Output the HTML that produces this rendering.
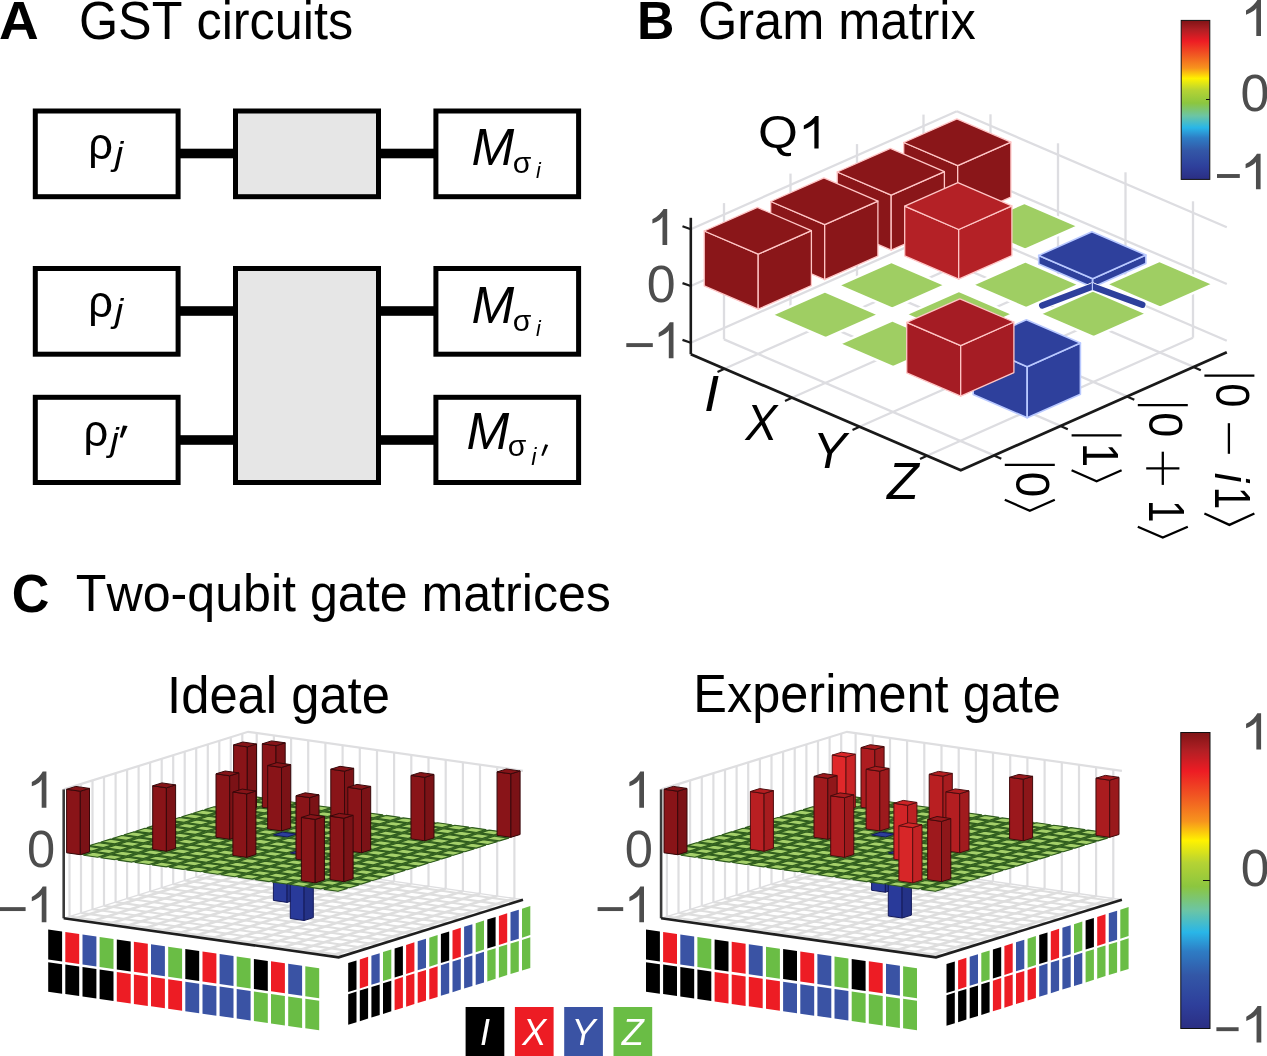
<!DOCTYPE html>
<html><head><meta charset="utf-8"><title>Figure</title>
<style>html,body{margin:0;padding:0;background:#fff;overflow:hidden}svg{display:block;font-family:"Liberation Sans",sans-serif;will-change:transform;font-kerning:none}</style>
</head><body>
<svg width="1267" height="1056" viewBox="0 0 1267 1056">
<rect width="1267" height="1056" fill="#fff"/>
<text transform="translate(-1.07,38.50) scale(1.1000,1.0727)" font-size="50.0" fill="#000" font-weight="bold">A</text>
<text transform="translate(78.92,38.50) scale(1.0076,1.0669)" font-size="50.0" fill="#000" >GST circuits</text>
<text transform="translate(637.03,38.50) scale(1.0363,1.0727)" font-size="50.0" fill="#000" font-weight="bold">B</text>
<text transform="translate(697.96,38.50) scale(1.0101,1.0669)" font-size="50.0" fill="#000" >Gram matrix</text>
<text transform="translate(11.76,611.80) scale(1.0431,1.0727)" font-size="50.0" fill="#000" font-weight="bold">C</text>
<text transform="translate(75.87,611.30) scale(1.0030,1.0494)" font-size="50.0" fill="#000" >Two-qubit gate matrices</text>
<text transform="translate(167.12,712.80) scale(1.0146,1.0494)" font-size="50.0" fill="#000" >Ideal gate</text>
<text transform="translate(693.26,712.10) scale(1.0102,1.0552)" font-size="50.0" fill="#000" >Experiment gate</text>
<text transform="translate(758.07,148.40) scale(1.0255,0.9360)" font-size="50.0" fill="#000" >Q</text>
<path d="M818.60,148.40 L814.36,148.40 L814.36,123.16 Q813.33,124.52 811.09,125.91 Q807.36,128.12 803.80,129.25 L803.80,125.42 Q807.80,123.53 810.78,120.78 Q813.77,118.03 815.27,116.00 L818.60,116.00 Z" fill="#000"/>
<rect x="178" y="148.7" width="58" height="9.6" fill="#000"/>
<rect x="378" y="148.7" width="58" height="9.6" fill="#000"/>
<rect x="178" y="306.2" width="58" height="9.6" fill="#000"/>
<rect x="378" y="306.2" width="58" height="9.6" fill="#000"/>
<rect x="178" y="435.2" width="58" height="9.6" fill="#000"/>
<rect x="378" y="435.2" width="58" height="9.6" fill="#000"/>
<rect x="35.3" y="111.0" width="142.8" height="85.7" fill="#fff" stroke="#000" stroke-width="5"/>
<rect x="235.5" y="111.0" width="143.0" height="85.7" fill="#e6e6e6" stroke="#000" stroke-width="5"/>
<rect x="435.9" y="111.0" width="142.7" height="85.7" fill="#fff" stroke="#000" stroke-width="5"/>
<rect x="35.3" y="268.5" width="142.8" height="85.7" fill="#fff" stroke="#000" stroke-width="5"/>
<rect x="235.5" y="268.5" width="143.0" height="214.0" fill="#e6e6e6" stroke="#000" stroke-width="5"/>
<rect x="435.9" y="268.5" width="142.7" height="85.7" fill="#fff" stroke="#000" stroke-width="5"/>
<rect x="35.3" y="397.3" width="142.8" height="85.2" fill="#fff" stroke="#000" stroke-width="5"/>
<rect x="435.9" y="397.3" width="142.7" height="85.2" fill="#fff" stroke="#000" stroke-width="5"/>
<text transform="translate(88.20,159.30) scale(1.0000,1.0300)" font-size="43.5" fill="#000" >ρ</text>
<text transform="translate(114.86,164.70) scale(1.1200,1.0000)" font-size="34" fill="#000" font-style="italic">j</text>
<text transform="translate(88.20,317.00) scale(1.0000,1.0300)" font-size="43.5" fill="#000" >ρ</text>
<text transform="translate(114.86,322.40) scale(1.1200,1.0000)" font-size="34" fill="#000" font-style="italic">j</text>
<text transform="translate(83.60,446.00) scale(1.0000,1.0300)" font-size="43.5" fill="#000" >ρ</text>
<text transform="translate(110.26,451.40) scale(1.1200,1.0000)" font-size="34" fill="#000" font-style="italic">j</text>
<path d="M123.0,425.5 l4.6,0.6 l-5.2,11.6 l-2.6,-0.5 z" fill="#000"/>
<text transform="translate(471.42,165.20) scale(1.0600,1.0550)" font-size="48.4" fill="#000" font-style="italic">M</text>
<text transform="translate(512.73,172.60) scale(1.0400,1.0000)" font-size="29" fill="#000" >σ</text>
<text transform="translate(535.95,177.60) scale(1.0000,1.0000)" font-size="21.5" fill="#000" font-style="italic">i</text>
<text transform="translate(471.42,323.20) scale(1.0600,1.0550)" font-size="48.4" fill="#000" font-style="italic">M</text>
<text transform="translate(512.73,330.60) scale(1.0400,1.0000)" font-size="29" fill="#000" >σ</text>
<text transform="translate(535.95,335.60) scale(1.0000,1.0000)" font-size="21.5" fill="#000" font-style="italic">i</text>
<text transform="translate(466.42,448.80) scale(1.0600,1.0550)" font-size="48.4" fill="#000" font-style="italic">M</text>
<text transform="translate(507.73,456.20) scale(1.0400,1.0000)" font-size="29" fill="#000" >σ</text>
<text transform="translate(531.22,465.40) scale(1.0000,1.0000)" font-size="23.5" fill="#000" font-style="italic">i</text>
<path d="M545.2,444.3 l3.0,0.6 l-5.0,11.0 l-1.9,-0.5 z" fill="#000"/>
<line x1="724.5" y1="368.7" x2="990.5" y2="250.7" stroke="#dddde1" stroke-width="2.3" />
<line x1="724.0" y1="339.4" x2="994.0" y2="455.4" stroke="#dddde1" stroke-width="2.3" />
<line x1="792.0" y1="397.7" x2="1058.0" y2="279.7" stroke="#dddde1" stroke-width="2.3" />
<line x1="790.5" y1="309.9" x2="1060.5" y2="425.9" stroke="#dddde1" stroke-width="2.3" />
<line x1="859.5" y1="426.7" x2="1125.5" y2="308.7" stroke="#dddde1" stroke-width="2.3" />
<line x1="857.0" y1="280.4" x2="1127.0" y2="396.4" stroke="#dddde1" stroke-width="2.3" />
<line x1="927.0" y1="455.7" x2="1193.0" y2="337.7" stroke="#dddde1" stroke-width="2.3" />
<line x1="923.5" y1="250.9" x2="1193.5" y2="366.9" stroke="#dddde1" stroke-width="2.3" />
<line x1="724.0" y1="339.4" x2="724.0" y2="203.1" stroke="#dddde1" stroke-width="2.3" />
<line x1="990.5" y1="250.7" x2="990.5" y2="114.3" stroke="#dddde1" stroke-width="2.3" />
<line x1="790.5" y1="309.9" x2="790.5" y2="173.6" stroke="#dddde1" stroke-width="2.3" />
<line x1="1058.0" y1="279.7" x2="1058.0" y2="143.3" stroke="#dddde1" stroke-width="2.3" />
<line x1="857.0" y1="280.4" x2="857.0" y2="144.1" stroke="#dddde1" stroke-width="2.3" />
<line x1="1125.5" y1="308.7" x2="1125.5" y2="172.3" stroke="#dddde1" stroke-width="2.3" />
<line x1="923.5" y1="250.9" x2="923.5" y2="114.6" stroke="#dddde1" stroke-width="2.3" />
<line x1="1193.0" y1="337.7" x2="1193.0" y2="201.3" stroke="#dddde1" stroke-width="2.3" />
<line x1="690.8" y1="342.8" x2="956.8" y2="224.8" stroke="#dddde1" stroke-width="2.3" />
<line x1="956.8" y1="224.8" x2="1226.8" y2="340.8" stroke="#dddde1" stroke-width="2.3" />
<line x1="690.8" y1="286.0" x2="956.8" y2="168.0" stroke="#dddde1" stroke-width="2.3" />
<line x1="956.8" y1="168.0" x2="1226.8" y2="284.0" stroke="#dddde1" stroke-width="2.3" />
<line x1="690.8" y1="229.2" x2="956.8" y2="111.2" stroke="#dddde1" stroke-width="2.3" />
<line x1="956.8" y1="111.2" x2="1226.8" y2="227.2" stroke="#dddde1" stroke-width="2.3" />
<polygon points="903.7,142.5 957.7,165.7 957.7,220.7 903.7,197.4" fill="#8a1619" stroke="#ffc6c6" stroke-width="1.3" stroke-linejoin="round" />
<polygon points="957.7,165.7 1010.9,142.1 1010.9,197.1 957.7,220.7" fill="#8a1619" stroke="#ffc6c6" stroke-width="1.3" stroke-linejoin="round" />
<polygon points="903.7,142.5 956.9,118.9 1010.9,142.1 957.7,165.7" fill="#8a1619" stroke="#ffc6c6" stroke-width="1.3" stroke-linejoin="round" />
<polygon points="837.2,172.0 891.2,195.2 891.2,250.2 837.2,226.9" fill="#8a1619" stroke="#ffc6c6" stroke-width="1.3" stroke-linejoin="round" />
<polygon points="891.2,195.2 944.4,171.6 944.4,226.6 891.2,250.2" fill="#8a1619" stroke="#ffc6c6" stroke-width="1.3" stroke-linejoin="round" />
<polygon points="837.2,172.0 890.4,148.4 944.4,171.6 891.2,195.2" fill="#8a1619" stroke="#ffc6c6" stroke-width="1.3" stroke-linejoin="round" />
<polygon points="971.2,226.4 1024.4,202.8 1078.4,226.1 1025.2,249.7" fill="#9fce63" stroke="#ffffff" stroke-width="2.4" stroke-linejoin="round" />
<polygon points="770.7,201.5 824.7,224.7 824.7,279.7 770.7,256.4" fill="#8a1619" stroke="#ffc6c6" stroke-width="1.3" stroke-linejoin="round" />
<polygon points="824.7,224.7 877.9,201.1 877.9,256.1 824.7,279.7" fill="#8a1619" stroke="#ffc6c6" stroke-width="1.3" stroke-linejoin="round" />
<polygon points="770.7,201.5 823.9,177.9 877.9,201.1 824.7,224.7" fill="#8a1619" stroke="#ffc6c6" stroke-width="1.3" stroke-linejoin="round" />
<polygon points="904.7,206.2 958.7,229.5 958.7,279.2 904.7,255.9" fill="#b42126" stroke="#ffc6c6" stroke-width="1.3" stroke-linejoin="round" />
<polygon points="958.7,229.5 1011.9,205.9 1011.9,255.6 958.7,279.2" fill="#b42126" stroke="#ffc6c6" stroke-width="1.3" stroke-linejoin="round" />
<polygon points="904.7,206.2 957.9,182.6 1011.9,205.9 958.7,229.5" fill="#b42126" stroke="#ffc6c6" stroke-width="1.3" stroke-linejoin="round" />
<polygon points="1038.7,255.4 1092.7,278.7 1092.7,287.2 1038.7,264.0" fill="#2e409c" stroke="#b9c9ff" stroke-width="1.6" stroke-linejoin="round" />
<polygon points="1092.7,278.7 1145.9,255.1 1145.9,263.6 1092.7,287.2" fill="#2e409c" stroke="#b9c9ff" stroke-width="1.6" stroke-linejoin="round" />
<polygon points="1038.7,255.4 1091.9,231.8 1145.9,255.1 1092.7,278.7" fill="#2e409c" stroke="#b9c9ff" stroke-width="1.6" stroke-linejoin="round" />
<polygon points="704.2,231.0 758.2,254.2 758.2,309.2 704.2,285.9" fill="#8a1619" stroke="#ffc6c6" stroke-width="1.3" stroke-linejoin="round" />
<polygon points="758.2,254.2 811.4,230.6 811.4,285.6 758.2,309.2" fill="#8a1619" stroke="#ffc6c6" stroke-width="1.3" stroke-linejoin="round" />
<polygon points="704.2,231.0 757.4,207.4 811.4,230.6 758.2,254.2" fill="#8a1619" stroke="#ffc6c6" stroke-width="1.3" stroke-linejoin="round" />
<polygon points="838.2,285.4 891.4,261.8 945.4,285.1 892.2,308.7" fill="#9fce63" stroke="#ffffff" stroke-width="2.4" stroke-linejoin="round" />
<polygon points="972.2,284.9 1025.4,261.3 1079.4,284.6 1026.2,308.2" fill="#9fce63" stroke="#ffffff" stroke-width="2.4" stroke-linejoin="round" />
<polygon points="1106.2,284.4 1159.4,260.8 1213.4,284.1 1160.2,307.7" fill="#9fce63" stroke="#ffffff" stroke-width="2.4" stroke-linejoin="round" />
<polygon points="771.7,314.9 824.9,291.3 878.9,314.6 825.7,338.2" fill="#9fce63" stroke="#ffffff" stroke-width="2.4" stroke-linejoin="round" />
<polygon points="905.7,314.4 958.9,290.8 1012.9,314.1 959.7,337.7" fill="#9fce63" stroke="#ffffff" stroke-width="2.4" stroke-linejoin="round" />
<polygon points="1039.7,313.9 1092.9,290.3 1146.9,313.6 1093.7,337.2" fill="#9fce63" stroke="#ffffff" stroke-width="2.4" stroke-linejoin="round" />
<polygon points="839.2,343.9 892.4,320.3 946.4,343.6 893.2,367.2" fill="#9fce63" stroke="#ffffff" stroke-width="2.4" stroke-linejoin="round" />
<polygon points="973.2,343.4 1027.2,366.7 1027.2,417.8 973.2,394.6" fill="#2e409c" stroke="#b9c9ff" stroke-width="1.6" stroke-linejoin="round" />
<polygon points="1027.2,366.7 1080.4,343.1 1080.4,394.2 1027.2,417.8" fill="#2e409c" stroke="#b9c9ff" stroke-width="1.6" stroke-linejoin="round" />
<polygon points="973.2,343.4 1026.4,319.8 1080.4,343.1 1027.2,366.7" fill="#2e409c" stroke="#b9c9ff" stroke-width="1.6" stroke-linejoin="round" />
<polygon points="906.7,322.4 960.7,345.6 960.7,396.2 906.7,372.9" fill="#a51c24" stroke="#ffc6c6" stroke-width="1.3" stroke-linejoin="round" />
<polygon points="960.7,345.6 1013.9,322.0 1013.9,372.6 960.7,396.2" fill="#a51c24" stroke="#ffc6c6" stroke-width="1.3" stroke-linejoin="round" />
<polygon points="906.7,322.4 959.9,298.8 1013.9,322.0 960.7,345.6" fill="#a51c24" stroke="#ffc6c6" stroke-width="1.3" stroke-linejoin="round" />
<line x1="1092.5" y1="286.6" x2="1042.2" y2="305.4" stroke="#ffffff" stroke-width="8.4" stroke-linecap="round"/>
<line x1="1092.5" y1="286.6" x2="1142.3" y2="304.8" stroke="#ffffff" stroke-width="8.4" stroke-linecap="round"/>
<line x1="1092.5" y1="286.6" x2="1042.2" y2="305.4" stroke="#2e409c" stroke-width="6.4" stroke-linecap="round"/>
<line x1="1092.5" y1="286.6" x2="1142.3" y2="304.8" stroke="#2e409c" stroke-width="6.4" stroke-linecap="round"/>
<line x1="1092.4" y1="279.2" x2="1092.4" y2="290.3" stroke="#b9c9ff" stroke-width="1.2" />
<line x1="690.8" y1="354.2" x2="690.8" y2="217.8" stroke="#1a1a1a" stroke-width="2.6" />
<polyline points="690.8,354.2 960.8,470.2 1226.8,352.2" fill="none" stroke="#1a1a1a" stroke-width="2.8" stroke-linejoin="miter"/>
<line x1="690.8" y1="342.8" x2="682.5" y2="339.9" stroke="#1a1a1a" stroke-width="2.2" />
<line x1="690.8" y1="286.0" x2="682.5" y2="283.1" stroke="#1a1a1a" stroke-width="2.2" />
<line x1="690.8" y1="229.2" x2="682.5" y2="226.3" stroke="#1a1a1a" stroke-width="2.2" />
<line x1="724.5" y1="368.7" x2="717.5" y2="371.9" stroke="#1a1a1a" stroke-width="2.2" />
<line x1="994.0" y1="455.4" x2="1001.3" y2="458.8" stroke="#1a1a1a" stroke-width="2.2" />
<line x1="792.0" y1="397.7" x2="785.0" y2="400.9" stroke="#1a1a1a" stroke-width="2.2" />
<line x1="1060.5" y1="425.9" x2="1067.8" y2="429.3" stroke="#1a1a1a" stroke-width="2.2" />
<line x1="859.5" y1="426.7" x2="852.5" y2="429.9" stroke="#1a1a1a" stroke-width="2.2" />
<line x1="1127.0" y1="396.4" x2="1134.3" y2="399.8" stroke="#1a1a1a" stroke-width="2.2" />
<line x1="927.0" y1="455.7" x2="920.0" y2="458.9" stroke="#1a1a1a" stroke-width="2.2" />
<line x1="1193.5" y1="366.9" x2="1200.8" y2="370.3" stroke="#1a1a1a" stroke-width="2.2" />
<path d="M667.20,244.90 L662.49,244.90 L662.49,216.86 Q661.93,218.36 659.69,219.92 Q655.96,222.37 652.40,223.62 L652.40,219.36 Q656.40,217.26 659.38,214.21 Q662.37,211.15 663.49,208.90 L667.20,208.90 Z" fill="#4d4d4d"/>
<text transform="translate(646.78,302.08) scale(1.0377,1.0339)" font-size="50.0" fill="#4d4d4d">0</text>
<rect x="626.30" y="343.15" width="26.50" height="3.90" fill="#4d4d4d"/>
<path d="M673.50,358.30 L668.79,358.30 L668.79,330.26 Q668.23,331.76 665.99,333.32 Q662.26,335.77 658.70,337.02 L658.70,332.76 Q662.70,330.66 665.68,327.61 Q668.67,324.55 669.79,322.30 L673.50,322.30 Z" fill="#4d4d4d"/>
<text transform="translate(704.04,411.00) scale(1.0923,1.0116)" font-size="50.0" fill="#000" font-style="italic">I</text>
<text transform="translate(745.51,439.80) scale(0.9508,0.9942)" font-size="50.0" fill="#000" font-style="italic">X</text>
<text transform="translate(812.64,468.40) scale(1.0112,0.9942)" font-size="50.0" fill="#000" font-style="italic">Y</text>
<text transform="translate(887.01,498.70) scale(1.0392,1.0233)" font-size="50.0" fill="#000" font-style="italic">Z</text>
<g transform="translate(1015.8,464.8) rotate(90)" fill="#000" stroke="none">
<line x1="0.0" y1="11" x2="0.0" y2="-39" stroke="#000" stroke-width="2.3"/>
<text transform="translate(6.91,-0.48) scale(0.9163,0.9774)" font-size="50.0">0</text>
<polyline points="35.0,-39 45.9,-14 35.0,11" fill="none" stroke="#000" stroke-width="2.3" stroke-linejoin="miter"/>
</g>
<g transform="translate(1082.6,435.3) rotate(90)" fill="#000" stroke="none">
<line x1="0.0" y1="11" x2="0.0" y2="-39" stroke="#000" stroke-width="2.3"/>
<text transform="translate(7.61,0.00) scale(0.8628,1.0058)" font-size="50.0">1</text>
<polyline points="34.9,-39 45.9,-14 34.9,11" fill="none" stroke="#000" stroke-width="2.3" stroke-linejoin="miter"/>
</g>
<g transform="translate(1148.8,405.1) rotate(90)" fill="#000" stroke="none">
<line x1="0.0" y1="11" x2="0.0" y2="-39" stroke="#000" stroke-width="2.3"/>
<text transform="translate(7.23,-0.48) scale(0.9037,0.9774)" font-size="50.0">0</text>
<line x1="46.6" y1="-14" x2="79.8" y2="-14" stroke="#000" stroke-width="2.3"/>
<line x1="63.2" y1="-30.6" x2="63.2" y2="2.6" stroke="#000" stroke-width="2.3"/>
<text transform="translate(94.81,0.00) scale(0.8118,1.0058)" font-size="50.0">1</text>
<polyline points="121.6,-39 132.5,-14 121.6,11" fill="none" stroke="#000" stroke-width="2.3" stroke-linejoin="miter"/>
</g>
<g transform="translate(1215.4,375.6) rotate(90)" fill="#000" stroke="none">
<line x1="0.0" y1="11" x2="0.0" y2="-39" stroke="#000" stroke-width="2.3"/>
<text transform="translate(7.70,-0.48) scale(0.8702,0.9774)" font-size="50.0">0</text>
<line x1="47.6" y1="-13.5" x2="78.2" y2="-13.5" stroke="#000" stroke-width="2.3"/>
<text transform="translate(97.20,0.00) scale(0.8665,0.9550)" font-size="50.0" font-style="italic">i</text>
<text transform="translate(111.21,0.00) scale(0.8118,1.0058)" font-size="50.0">1</text>
<polyline points="137.9,-39 149.3,-14 137.9,11" fill="none" stroke="#000" stroke-width="2.3" stroke-linejoin="miter"/>
</g>
<defs><linearGradient id="jet" x1="0" y1="0" x2="0" y2="1">
<stop offset="0" stop-color="#7f1416"/><stop offset="0.06" stop-color="#b11f24"/><stop offset="0.13" stop-color="#ed1c24"/>
<stop offset="0.22" stop-color="#f15a22"/><stop offset="0.30" stop-color="#f7941d"/><stop offset="0.365" stop-color="#fff200"/>
<stop offset="0.44" stop-color="#b5d334"/><stop offset="0.52" stop-color="#8cc63f"/><stop offset="0.60" stop-color="#6cc5a4"/>
<stop offset="0.675" stop-color="#29b6e8"/><stop offset="0.74" stop-color="#2e7cc4"/><stop offset="0.82" stop-color="#3357a7"/>
<stop offset="0.92" stop-color="#2e3f9b"/><stop offset="1" stop-color="#2b2e83"/></linearGradient></defs>
<rect x="1181.2" y="20.4" width="28.6" height="159" fill="url(#jet)" stroke="#111" stroke-width="1"/>
<rect x="1180.8" y="732.5" width="29.2" height="296" fill="url(#jet)" stroke="#111" stroke-width="1"/>
<line x1="1203.0" y1="880.5" x2="1210.0" y2="880.5" stroke="#111" stroke-width="1" />
<line x1="1206.0" y1="99.5" x2="1210.0" y2="99.5" stroke="#111" stroke-width="1" />
<path d="M1261.00,36.00 L1256.29,36.00 L1256.29,7.96 Q1255.66,9.46 1253.39,11.02 Q1249.61,13.47 1246.00,14.72 L1246.00,10.46 Q1250.05,8.36 1253.08,5.31 Q1256.10,2.25 1257.29,0.00 L1261.00,0.00 Z" fill="#4d4d4d"/>
<text transform="translate(1240.58,111.28) scale(1.0377,1.0395)" font-size="50.0" fill="#4d4d4d">0</text>
<rect x="1217.00" y="174.05" width="22.80" height="3.90" fill="#4d4d4d"/>
<path d="M1260.60,189.30 L1255.96,189.30 L1255.96,161.65 Q1255.26,163.13 1252.99,164.66 Q1249.21,167.08 1245.60,168.32 L1245.60,164.12 Q1249.65,162.05 1252.68,159.03 Q1255.70,156.02 1256.95,153.80 L1260.60,153.80 Z" fill="#4d4d4d"/>
<path d="M1261.10,749.60 L1256.35,749.60 L1256.35,721.33 Q1255.76,722.84 1253.49,724.41 Q1249.71,726.88 1246.10,728.14 L1246.10,723.85 Q1250.15,721.73 1253.18,718.65 Q1256.20,715.57 1257.36,713.30 L1261.10,713.30 Z" fill="#4d4d4d"/>
<text transform="translate(1240.79,886.08) scale(1.0293,1.0452)" font-size="50.0" fill="#4d4d4d">0</text>
<rect x="1216.40" y="1027.25" width="22.20" height="3.90" fill="#4d4d4d"/>
<path d="M1261.30,1042.40 L1256.55,1042.40 L1256.55,1014.13 Q1255.96,1015.64 1253.69,1017.21 Q1249.91,1019.68 1246.30,1020.94 L1246.30,1016.65 Q1250.35,1014.53 1253.38,1011.45 Q1256.40,1008.37 1257.56,1006.10 L1261.30,1006.10 Z" fill="#4d4d4d"/>
<polygon points="63.7,918.3 248.1,860.7 523.0,899.7 338.6,957.3" fill="#fff" stroke="none" stroke-width="0" stroke-linejoin="round" />
<line x1="72.3" y1="919.5" x2="256.7" y2="861.9" stroke="#dedede" stroke-width="2.6" />
<line x1="69.5" y1="916.5" x2="344.3" y2="955.5" stroke="#dedede" stroke-width="2.1" />
<line x1="69.5" y1="916.5" x2="69.5" y2="787.6" stroke="#dedee0" stroke-width="2.2" />
<line x1="256.7" y1="861.9" x2="256.7" y2="733.0" stroke="#dedee0" stroke-width="2.2" />
<line x1="89.5" y1="922.0" x2="273.9" y2="864.4" stroke="#dedede" stroke-width="2.6" />
<line x1="81.0" y1="912.9" x2="355.9" y2="951.9" stroke="#dedede" stroke-width="2.1" />
<line x1="81.0" y1="912.9" x2="81.0" y2="784.0" stroke="#dedee0" stroke-width="2.2" />
<line x1="273.9" y1="864.4" x2="273.9" y2="735.5" stroke="#dedee0" stroke-width="2.2" />
<line x1="106.7" y1="924.4" x2="291.1" y2="866.8" stroke="#dedede" stroke-width="2.6" />
<line x1="92.5" y1="909.3" x2="367.4" y2="948.3" stroke="#dedede" stroke-width="2.1" />
<line x1="92.5" y1="909.3" x2="92.5" y2="780.4" stroke="#dedee0" stroke-width="2.2" />
<line x1="291.1" y1="866.8" x2="291.1" y2="737.9" stroke="#dedee0" stroke-width="2.2" />
<line x1="123.8" y1="926.8" x2="308.2" y2="869.2" stroke="#dedede" stroke-width="2.6" />
<line x1="104.0" y1="905.7" x2="378.9" y2="944.7" stroke="#dedede" stroke-width="2.1" />
<line x1="104.0" y1="905.7" x2="104.0" y2="776.8" stroke="#dedee0" stroke-width="2.2" />
<line x1="308.2" y1="869.2" x2="308.2" y2="740.3" stroke="#dedee0" stroke-width="2.2" />
<line x1="141.0" y1="929.3" x2="325.4" y2="871.7" stroke="#dedede" stroke-width="2.6" />
<line x1="115.6" y1="902.1" x2="390.4" y2="941.1" stroke="#dedede" stroke-width="2.1" />
<line x1="115.6" y1="902.1" x2="115.6" y2="773.2" stroke="#dedee0" stroke-width="2.2" />
<line x1="325.4" y1="871.7" x2="325.4" y2="742.8" stroke="#dedee0" stroke-width="2.2" />
<line x1="158.2" y1="931.7" x2="342.6" y2="874.1" stroke="#dedede" stroke-width="2.6" />
<line x1="127.1" y1="898.5" x2="402.0" y2="937.5" stroke="#dedede" stroke-width="2.1" />
<line x1="127.1" y1="898.5" x2="127.1" y2="769.6" stroke="#dedee0" stroke-width="2.2" />
<line x1="342.6" y1="874.1" x2="342.6" y2="745.2" stroke="#dedee0" stroke-width="2.2" />
<line x1="175.4" y1="934.2" x2="359.8" y2="876.6" stroke="#dedede" stroke-width="2.6" />
<line x1="138.6" y1="894.9" x2="413.5" y2="933.9" stroke="#dedede" stroke-width="2.1" />
<line x1="138.6" y1="894.9" x2="138.6" y2="766.0" stroke="#dedee0" stroke-width="2.2" />
<line x1="359.8" y1="876.6" x2="359.8" y2="747.7" stroke="#dedee0" stroke-width="2.2" />
<line x1="192.6" y1="936.6" x2="377.0" y2="879.0" stroke="#dedede" stroke-width="2.6" />
<line x1="150.1" y1="891.3" x2="425.0" y2="930.3" stroke="#dedede" stroke-width="2.1" />
<line x1="150.1" y1="891.3" x2="150.1" y2="762.4" stroke="#dedee0" stroke-width="2.2" />
<line x1="377.0" y1="879.0" x2="377.0" y2="750.1" stroke="#dedee0" stroke-width="2.2" />
<line x1="209.7" y1="939.0" x2="394.1" y2="881.4" stroke="#dedede" stroke-width="2.6" />
<line x1="161.7" y1="887.7" x2="436.5" y2="926.7" stroke="#dedede" stroke-width="2.1" />
<line x1="161.7" y1="887.7" x2="161.7" y2="758.8" stroke="#dedee0" stroke-width="2.2" />
<line x1="394.1" y1="881.4" x2="394.1" y2="752.5" stroke="#dedee0" stroke-width="2.2" />
<line x1="226.9" y1="941.5" x2="411.3" y2="883.9" stroke="#dedede" stroke-width="2.6" />
<line x1="173.2" y1="884.1" x2="448.1" y2="923.1" stroke="#dedede" stroke-width="2.1" />
<line x1="173.2" y1="884.1" x2="173.2" y2="755.2" stroke="#dedee0" stroke-width="2.2" />
<line x1="411.3" y1="883.9" x2="411.3" y2="755.0" stroke="#dedee0" stroke-width="2.2" />
<line x1="244.1" y1="943.9" x2="428.5" y2="886.3" stroke="#dedede" stroke-width="2.6" />
<line x1="184.7" y1="880.5" x2="459.6" y2="919.5" stroke="#dedede" stroke-width="2.1" />
<line x1="184.7" y1="880.5" x2="184.7" y2="751.6" stroke="#dedee0" stroke-width="2.2" />
<line x1="428.5" y1="886.3" x2="428.5" y2="757.4" stroke="#dedee0" stroke-width="2.2" />
<line x1="261.3" y1="946.4" x2="445.7" y2="888.8" stroke="#dedede" stroke-width="2.6" />
<line x1="196.2" y1="876.9" x2="471.1" y2="915.9" stroke="#dedede" stroke-width="2.1" />
<line x1="196.2" y1="876.9" x2="196.2" y2="748.0" stroke="#dedee0" stroke-width="2.2" />
<line x1="445.7" y1="888.8" x2="445.7" y2="759.9" stroke="#dedee0" stroke-width="2.2" />
<line x1="278.4" y1="948.8" x2="462.9" y2="891.2" stroke="#dedede" stroke-width="2.6" />
<line x1="207.8" y1="873.3" x2="482.6" y2="912.3" stroke="#dedede" stroke-width="2.1" />
<line x1="207.8" y1="873.3" x2="207.8" y2="744.4" stroke="#dedee0" stroke-width="2.2" />
<line x1="462.9" y1="891.2" x2="462.9" y2="762.3" stroke="#dedee0" stroke-width="2.2" />
<line x1="295.6" y1="951.2" x2="480.0" y2="893.6" stroke="#dedede" stroke-width="2.6" />
<line x1="219.3" y1="869.7" x2="494.2" y2="908.7" stroke="#dedede" stroke-width="2.1" />
<line x1="219.3" y1="869.7" x2="219.3" y2="740.8" stroke="#dedee0" stroke-width="2.2" />
<line x1="480.0" y1="893.6" x2="480.0" y2="764.7" stroke="#dedee0" stroke-width="2.2" />
<line x1="312.8" y1="953.7" x2="497.2" y2="896.1" stroke="#dedede" stroke-width="2.6" />
<line x1="230.8" y1="866.1" x2="505.7" y2="905.1" stroke="#dedede" stroke-width="2.1" />
<line x1="230.8" y1="866.1" x2="230.8" y2="737.2" stroke="#dedee0" stroke-width="2.2" />
<line x1="497.2" y1="896.1" x2="497.2" y2="767.2" stroke="#dedee0" stroke-width="2.2" />
<line x1="330.0" y1="956.1" x2="514.4" y2="898.5" stroke="#dedede" stroke-width="2.6" />
<line x1="242.3" y1="862.5" x2="517.2" y2="901.5" stroke="#dedede" stroke-width="2.1" />
<line x1="242.3" y1="862.5" x2="242.3" y2="733.6" stroke="#dedee0" stroke-width="2.2" />
<line x1="514.4" y1="898.5" x2="514.4" y2="769.6" stroke="#dedee0" stroke-width="2.2" />
<polyline points="63.7,789.4 248.1,731.8 523.0,770.8" fill="none" stroke="#dedee0" stroke-width="2.2"/>
<polyline points="63.7,918.3 248.1,860.7 523.0,899.7" fill="none" stroke="#dedee0" stroke-width="1.4"/>
<polygon points="273.4,835.0 287.1,837.0 287.1,902.4 273.4,900.4" fill="#293a9a" stroke="#141a5a" stroke-width="1.0" stroke-linejoin="round" />
<polygon points="287.1,837.0 296.3,834.1 296.3,899.5 287.1,902.4" fill="#243287" stroke="#141a5a" stroke-width="1.0" stroke-linejoin="round" />
<polygon points="290.3,853.1 304.1,855.1 304.1,920.5 290.3,918.5" fill="#293a9a" stroke="#141a5a" stroke-width="1.0" stroke-linejoin="round" />
<polygon points="304.1,855.1 313.3,852.2 313.3,917.6 304.1,920.5" fill="#243287" stroke="#141a5a" stroke-width="1.0" stroke-linejoin="round" />
<polygon points="66.6,852.8 248.7,795.9 520.1,834.5 338.0,891.3" fill="#42722a" stroke="none" stroke-width="0" stroke-linejoin="round" />
<polygon points="239.4,798.8 248.7,795.9 262.4,797.9 253.2,800.7" fill="#a4d069" stroke="#2f5c1e" stroke-width="1.1" stroke-linejoin="round" />
<polygon points="227.9,802.4 237.1,799.5 250.9,801.5 241.7,804.3" fill="#a4d069" stroke="#2f5c1e" stroke-width="1.1" stroke-linejoin="round" />
<polygon points="256.6,801.2 265.8,798.3 279.6,800.3 270.4,803.2" fill="#a4d069" stroke="#2f5c1e" stroke-width="1.1" stroke-linejoin="round" />
<polygon points="216.4,806.0 225.6,803.1 239.4,805.1 230.1,807.9" fill="#a4d069" stroke="#2f5c1e" stroke-width="1.1" stroke-linejoin="round" />
<polygon points="245.1,804.8 254.3,801.9 268.1,803.9 258.8,806.8" fill="#a4d069" stroke="#2f5c1e" stroke-width="1.1" stroke-linejoin="round" />
<polygon points="273.8,803.7 283.0,800.8 296.8,802.7 287.5,805.6" fill="#a4d069" stroke="#2f5c1e" stroke-width="1.1" stroke-linejoin="round" />
<polygon points="204.9,809.6 214.1,806.7 227.8,808.7 218.6,811.5" fill="#a4d069" stroke="#2f5c1e" stroke-width="1.1" stroke-linejoin="round" />
<polygon points="233.6,744.9 247.3,746.9 247.3,810.4 233.6,808.4" fill="#891418" stroke="#38080a" stroke-width="1.0" stroke-linejoin="round" />
<polygon points="247.3,746.9 256.5,744.0 256.5,807.5 247.3,810.4" fill="#7b1216" stroke="#38080a" stroke-width="1.0" stroke-linejoin="round" />
<polygon points="233.6,744.9 242.8,742.0 256.5,744.0 247.3,746.9" fill="#861418" stroke="#38080a" stroke-width="1.0" stroke-linejoin="round" />
<polygon points="262.3,743.8 276.0,745.7 276.0,809.2 262.3,807.3" fill="#891418" stroke="#38080a" stroke-width="1.0" stroke-linejoin="round" />
<polygon points="276.0,745.7 285.2,742.8 285.2,806.3 276.0,809.2" fill="#7b1216" stroke="#38080a" stroke-width="1.0" stroke-linejoin="round" />
<polygon points="262.3,743.8 271.5,740.9 285.2,742.8 276.0,745.7" fill="#861418" stroke="#38080a" stroke-width="1.0" stroke-linejoin="round" />
<polygon points="291.0,806.1 300.2,803.2 313.9,805.2 304.7,808.1" fill="#a4d069" stroke="#2f5c1e" stroke-width="1.1" stroke-linejoin="round" />
<polygon points="193.3,813.2 202.6,810.3 216.3,812.3 207.1,815.1" fill="#a4d069" stroke="#2f5c1e" stroke-width="1.1" stroke-linejoin="round" />
<polygon points="222.1,812.0 231.3,809.1 245.0,811.1 235.8,814.0" fill="#a4d069" stroke="#2f5c1e" stroke-width="1.1" stroke-linejoin="round" />
<polygon points="250.8,810.9 260.0,808.0 273.7,809.9 264.5,812.8" fill="#a4d069" stroke="#2f5c1e" stroke-width="1.1" stroke-linejoin="round" />
<polygon points="279.5,809.7 288.7,806.8 302.4,808.8 293.2,811.7" fill="#a4d069" stroke="#2f5c1e" stroke-width="1.1" stroke-linejoin="round" />
<polygon points="308.2,808.5 317.4,805.7 331.1,807.6 321.9,810.5" fill="#a4d069" stroke="#2f5c1e" stroke-width="1.1" stroke-linejoin="round" />
<polygon points="181.8,816.8 191.0,813.9 204.8,815.9 195.6,818.7" fill="#a4d069" stroke="#2f5c1e" stroke-width="1.1" stroke-linejoin="round" />
<polygon points="210.5,815.6 219.7,812.7 233.5,814.7 224.3,817.6" fill="#a4d069" stroke="#2f5c1e" stroke-width="1.1" stroke-linejoin="round" />
<polygon points="239.2,814.5 248.5,811.6 262.2,813.5 253.0,816.4" fill="#a4d069" stroke="#2f5c1e" stroke-width="1.1" stroke-linejoin="round" />
<polygon points="267.9,813.3 277.2,810.4 290.9,812.4 281.7,815.3" fill="#a4d069" stroke="#2f5c1e" stroke-width="1.1" stroke-linejoin="round" />
<polygon points="296.6,812.1 305.9,809.3 319.6,811.2 310.4,814.1" fill="#a4d069" stroke="#2f5c1e" stroke-width="1.1" stroke-linejoin="round" />
<polygon points="325.3,811.0 334.6,808.1 348.3,810.1 339.1,812.9" fill="#a4d069" stroke="#2f5c1e" stroke-width="1.1" stroke-linejoin="round" />
<polygon points="170.3,820.4 179.5,817.5 193.3,819.5 184.0,822.3" fill="#a4d069" stroke="#2f5c1e" stroke-width="1.1" stroke-linejoin="round" />
<polygon points="199.0,819.2 208.2,816.3 222.0,818.3 212.7,821.2" fill="#a4d069" stroke="#2f5c1e" stroke-width="1.1" stroke-linejoin="round" />
<polygon points="227.7,818.1 236.9,815.2 250.7,817.1 241.4,820.0" fill="#a4d069" stroke="#2f5c1e" stroke-width="1.1" stroke-linejoin="round" />
<polygon points="256.4,816.9 265.6,814.0 279.4,816.0 270.2,818.9" fill="#a4d069" stroke="#2f5c1e" stroke-width="1.1" stroke-linejoin="round" />
<polygon points="285.1,815.7 294.3,812.9 308.1,814.8 298.9,817.7" fill="#a4d069" stroke="#2f5c1e" stroke-width="1.1" stroke-linejoin="round" />
<polygon points="313.8,814.6 323.0,811.7 336.8,813.7 327.6,816.5" fill="#a4d069" stroke="#2f5c1e" stroke-width="1.1" stroke-linejoin="round" />
<polygon points="342.5,813.4 351.7,810.5 365.5,812.5 356.3,815.4" fill="#a4d069" stroke="#2f5c1e" stroke-width="1.1" stroke-linejoin="round" />
<polygon points="158.8,824.0 168.0,821.1 181.7,823.1 172.5,825.9" fill="#a4d069" stroke="#2f5c1e" stroke-width="1.1" stroke-linejoin="round" />
<polygon points="187.5,822.8 196.7,819.9 210.4,821.9 201.2,824.8" fill="#a4d069" stroke="#2f5c1e" stroke-width="1.1" stroke-linejoin="round" />
<polygon points="216.2,821.7 225.4,818.8 239.1,820.7 229.9,823.6" fill="#a4d069" stroke="#2f5c1e" stroke-width="1.1" stroke-linejoin="round" />
<polygon points="244.9,820.5 254.1,817.6 267.8,819.6 258.6,822.5" fill="#a4d069" stroke="#2f5c1e" stroke-width="1.1" stroke-linejoin="round" />
<polygon points="273.6,819.3 282.8,816.5 296.6,818.4 287.3,821.3" fill="#a4d069" stroke="#2f5c1e" stroke-width="1.1" stroke-linejoin="round" />
<polygon points="302.3,818.2 311.5,815.3 325.3,817.3 316.0,820.1" fill="#a4d069" stroke="#2f5c1e" stroke-width="1.1" stroke-linejoin="round" />
<polygon points="331.0,817.0 340.2,814.1 354.0,816.1 344.7,819.0" fill="#a4d069" stroke="#2f5c1e" stroke-width="1.1" stroke-linejoin="round" />
<polygon points="359.7,815.9 368.9,813.0 382.7,814.9 373.4,817.8" fill="#a4d069" stroke="#2f5c1e" stroke-width="1.1" stroke-linejoin="round" />
<polygon points="147.2,827.6 156.5,824.7 170.2,826.7 161.0,829.5" fill="#a4d069" stroke="#2f5c1e" stroke-width="1.1" stroke-linejoin="round" />
<polygon points="176.0,826.4 185.2,823.5 198.9,825.5 189.7,828.4" fill="#a4d069" stroke="#2f5c1e" stroke-width="1.1" stroke-linejoin="round" />
<polygon points="204.7,825.3 213.9,822.4 227.6,824.3 218.4,827.2" fill="#a4d069" stroke="#2f5c1e" stroke-width="1.1" stroke-linejoin="round" />
<polygon points="233.4,824.1 242.6,821.2 256.3,823.2 247.1,826.1" fill="#a4d069" stroke="#2f5c1e" stroke-width="1.1" stroke-linejoin="round" />
<polygon points="262.1,822.9 271.3,820.1 285.0,822.0 275.8,824.9" fill="#a4d069" stroke="#2f5c1e" stroke-width="1.1" stroke-linejoin="round" />
<polygon points="290.8,821.8 300.0,818.9 313.7,820.9 304.5,823.7" fill="#a4d069" stroke="#2f5c1e" stroke-width="1.1" stroke-linejoin="round" />
<polygon points="319.5,820.6 328.7,817.7 342.4,819.7 333.2,822.6" fill="#a4d069" stroke="#2f5c1e" stroke-width="1.1" stroke-linejoin="round" />
<polygon points="348.2,819.5 357.4,816.6 371.1,818.5 361.9,821.4" fill="#a4d069" stroke="#2f5c1e" stroke-width="1.1" stroke-linejoin="round" />
<polygon points="376.9,818.3 386.1,815.4 399.8,817.4 390.6,820.3" fill="#a4d069" stroke="#2f5c1e" stroke-width="1.1" stroke-linejoin="round" />
<polygon points="135.7,831.2 144.9,828.3 158.7,830.3 149.5,833.1" fill="#a4d069" stroke="#2f5c1e" stroke-width="1.1" stroke-linejoin="round" />
<polygon points="164.4,830.0 173.6,827.1 187.4,829.1 178.2,832.0" fill="#a4d069" stroke="#2f5c1e" stroke-width="1.1" stroke-linejoin="round" />
<polygon points="193.1,828.9 202.4,826.0 216.1,827.9 206.9,830.8" fill="#a4d069" stroke="#2f5c1e" stroke-width="1.1" stroke-linejoin="round" />
<polygon points="221.8,827.7 231.1,824.8 244.8,826.8 235.6,829.7" fill="#a4d069" stroke="#2f5c1e" stroke-width="1.1" stroke-linejoin="round" />
<polygon points="250.5,826.5 259.8,823.7 273.5,825.6 264.3,828.5" fill="#a4d069" stroke="#2f5c1e" stroke-width="1.1" stroke-linejoin="round" />
<polygon points="279.2,825.4 288.5,822.5 302.2,824.5 293.0,827.3" fill="#a4d069" stroke="#2f5c1e" stroke-width="1.1" stroke-linejoin="round" />
<polygon points="308.0,824.2 317.2,821.3 330.9,823.3 321.7,826.2" fill="#a4d069" stroke="#2f5c1e" stroke-width="1.1" stroke-linejoin="round" />
<polygon points="336.7,823.1 345.9,820.2 359.6,822.1 350.4,825.0" fill="#a4d069" stroke="#2f5c1e" stroke-width="1.1" stroke-linejoin="round" />
<polygon points="365.4,821.9 374.6,819.0 388.3,821.0 379.1,823.9" fill="#a4d069" stroke="#2f5c1e" stroke-width="1.1" stroke-linejoin="round" />
<polygon points="394.1,820.7 403.3,817.9 417.0,819.8 407.8,822.7" fill="#a4d069" stroke="#2f5c1e" stroke-width="1.1" stroke-linejoin="round" />
<polygon points="124.2,834.8 133.4,831.9 147.2,833.9 137.9,836.7" fill="#a4d069" stroke="#2f5c1e" stroke-width="1.1" stroke-linejoin="round" />
<polygon points="152.9,833.6 162.1,830.7 175.9,832.7 166.6,835.6" fill="#a4d069" stroke="#2f5c1e" stroke-width="1.1" stroke-linejoin="round" />
<polygon points="181.6,832.5 190.8,829.6 204.6,831.5 195.3,834.4" fill="#a4d069" stroke="#2f5c1e" stroke-width="1.1" stroke-linejoin="round" />
<polygon points="210.3,831.3 219.5,828.4 233.3,830.4 224.1,833.3" fill="#a4d069" stroke="#2f5c1e" stroke-width="1.1" stroke-linejoin="round" />
<polygon points="239.0,830.1 248.2,827.3 262.0,829.2 252.8,832.1" fill="#a4d069" stroke="#2f5c1e" stroke-width="1.1" stroke-linejoin="round" />
<polygon points="267.7,765.5 281.5,767.4 281.5,830.9 267.7,829.0" fill="#891418" stroke="#38080a" stroke-width="1.0" stroke-linejoin="round" />
<polygon points="281.5,767.4 290.7,764.6 290.7,828.1 281.5,830.9" fill="#7b1216" stroke="#38080a" stroke-width="1.0" stroke-linejoin="round" />
<polygon points="267.7,765.5 276.9,762.6 290.7,764.6 281.5,767.4" fill="#861418" stroke="#38080a" stroke-width="1.0" stroke-linejoin="round" />
<polygon points="296.4,827.8 305.6,824.9 319.4,826.9 310.2,829.8" fill="#a4d069" stroke="#2f5c1e" stroke-width="1.1" stroke-linejoin="round" />
<polygon points="325.1,826.7 334.4,823.8 348.1,825.7 338.9,828.6" fill="#a4d069" stroke="#2f5c1e" stroke-width="1.1" stroke-linejoin="round" />
<polygon points="353.8,825.5 363.1,822.6 376.8,824.6 367.6,827.5" fill="#a4d069" stroke="#2f5c1e" stroke-width="1.1" stroke-linejoin="round" />
<polygon points="382.5,824.3 391.8,821.5 405.5,823.4 396.3,826.3" fill="#a4d069" stroke="#2f5c1e" stroke-width="1.1" stroke-linejoin="round" />
<polygon points="411.2,823.2 420.5,820.3 434.2,822.3 425.0,825.1" fill="#a4d069" stroke="#2f5c1e" stroke-width="1.1" stroke-linejoin="round" />
<polygon points="112.7,838.4 121.9,835.5 135.6,837.5 126.4,840.3" fill="#a4d069" stroke="#2f5c1e" stroke-width="1.1" stroke-linejoin="round" />
<polygon points="141.4,837.2 150.6,834.3 164.3,836.3 155.1,839.2" fill="#a4d069" stroke="#2f5c1e" stroke-width="1.1" stroke-linejoin="round" />
<polygon points="170.1,836.1 179.3,833.2 193.0,835.1 183.8,838.0" fill="#a4d069" stroke="#2f5c1e" stroke-width="1.1" stroke-linejoin="round" />
<polygon points="198.8,834.9 208.0,832.0 221.7,834.0 212.5,836.9" fill="#a4d069" stroke="#2f5c1e" stroke-width="1.1" stroke-linejoin="round" />
<polygon points="227.5,833.7 236.7,830.9 250.5,832.8 241.2,835.7" fill="#a4d069" stroke="#2f5c1e" stroke-width="1.1" stroke-linejoin="round" />
<polygon points="256.2,832.6 265.4,829.7 279.2,831.7 269.9,834.5" fill="#a4d069" stroke="#2f5c1e" stroke-width="1.1" stroke-linejoin="round" />
<polygon points="284.9,831.4 294.1,828.5 307.9,830.5 298.6,833.4" fill="#a4d069" stroke="#2f5c1e" stroke-width="1.1" stroke-linejoin="round" />
<polygon points="313.6,830.3 322.8,827.4 336.6,829.3 327.3,832.2" fill="#a4d069" stroke="#2f5c1e" stroke-width="1.1" stroke-linejoin="round" />
<polygon points="342.3,829.1 351.5,826.2 365.3,828.2 356.1,831.1" fill="#a4d069" stroke="#2f5c1e" stroke-width="1.1" stroke-linejoin="round" />
<polygon points="371.0,827.9 380.2,825.1 394.0,827.0 384.8,829.9" fill="#a4d069" stroke="#2f5c1e" stroke-width="1.1" stroke-linejoin="round" />
<polygon points="399.7,826.8 408.9,823.9 422.7,825.9 413.5,828.7" fill="#a4d069" stroke="#2f5c1e" stroke-width="1.1" stroke-linejoin="round" />
<polygon points="428.4,825.6 437.6,822.7 451.4,824.7 442.2,827.6" fill="#a4d069" stroke="#2f5c1e" stroke-width="1.1" stroke-linejoin="round" />
<polygon points="101.1,842.0 110.4,839.1 124.1,841.1 114.9,843.9" fill="#a4d069" stroke="#2f5c1e" stroke-width="1.1" stroke-linejoin="round" />
<polygon points="129.9,840.8 139.1,837.9 152.8,839.9 143.6,842.8" fill="#a4d069" stroke="#2f5c1e" stroke-width="1.1" stroke-linejoin="round" />
<polygon points="158.6,839.7 167.8,836.8 181.5,838.7 172.3,841.6" fill="#a4d069" stroke="#2f5c1e" stroke-width="1.1" stroke-linejoin="round" />
<polygon points="187.3,838.5 196.5,835.6 210.2,837.6 201.0,840.5" fill="#a4d069" stroke="#2f5c1e" stroke-width="1.1" stroke-linejoin="round" />
<polygon points="216.0,773.8 229.7,775.8 229.7,839.3 216.0,837.3" fill="#891418" stroke="#38080a" stroke-width="1.0" stroke-linejoin="round" />
<polygon points="229.7,775.8 238.9,772.9 238.9,836.4 229.7,839.3" fill="#7b1216" stroke="#38080a" stroke-width="1.0" stroke-linejoin="round" />
<polygon points="216.0,773.8 225.2,771.0 238.9,772.9 229.7,775.8" fill="#861418" stroke="#38080a" stroke-width="1.0" stroke-linejoin="round" />
<polygon points="244.7,836.2 253.9,833.3 267.6,835.3 258.4,838.1" fill="#a4d069" stroke="#2f5c1e" stroke-width="1.1" stroke-linejoin="round" />
<polygon points="273.4,835.0 282.6,832.1 296.3,834.1 287.1,837.0" fill="#2c3e9c" stroke="#141a5a" stroke-width="1.0" stroke-linejoin="round" />
<polygon points="302.1,833.9 311.3,831.0 325.0,832.9 315.8,835.8" fill="#a4d069" stroke="#2f5c1e" stroke-width="1.1" stroke-linejoin="round" />
<polygon points="330.8,769.2 344.5,771.2 344.5,834.7 330.8,832.7" fill="#891418" stroke="#38080a" stroke-width="1.0" stroke-linejoin="round" />
<polygon points="344.5,771.2 353.7,768.3 353.7,831.8 344.5,834.7" fill="#7b1216" stroke="#38080a" stroke-width="1.0" stroke-linejoin="round" />
<polygon points="330.8,769.2 340.0,766.3 353.7,768.3 344.5,771.2" fill="#861418" stroke="#38080a" stroke-width="1.0" stroke-linejoin="round" />
<polygon points="359.5,831.5 368.7,828.7 382.5,830.6 373.2,833.5" fill="#a4d069" stroke="#2f5c1e" stroke-width="1.1" stroke-linejoin="round" />
<polygon points="388.2,830.4 397.4,827.5 411.2,829.5 401.9,832.3" fill="#a4d069" stroke="#2f5c1e" stroke-width="1.1" stroke-linejoin="round" />
<polygon points="416.9,829.2 426.1,826.3 439.9,828.3 430.6,831.2" fill="#a4d069" stroke="#2f5c1e" stroke-width="1.1" stroke-linejoin="round" />
<polygon points="445.6,828.1 454.8,825.2 468.6,827.1 459.3,830.0" fill="#a4d069" stroke="#2f5c1e" stroke-width="1.1" stroke-linejoin="round" />
<polygon points="89.6,845.6 98.8,842.7 112.6,844.7 103.4,847.5" fill="#a4d069" stroke="#2f5c1e" stroke-width="1.1" stroke-linejoin="round" />
<polygon points="118.3,844.4 127.5,841.5 141.3,843.5 132.1,846.4" fill="#a4d069" stroke="#2f5c1e" stroke-width="1.1" stroke-linejoin="round" />
<polygon points="147.0,843.3 156.3,840.4 170.0,842.3 160.8,845.2" fill="#a4d069" stroke="#2f5c1e" stroke-width="1.1" stroke-linejoin="round" />
<polygon points="175.7,842.1 185.0,839.2 198.7,841.2 189.5,844.1" fill="#a4d069" stroke="#2f5c1e" stroke-width="1.1" stroke-linejoin="round" />
<polygon points="204.4,840.9 213.7,838.1 227.4,840.0 218.2,842.9" fill="#a4d069" stroke="#2f5c1e" stroke-width="1.1" stroke-linejoin="round" />
<polygon points="233.1,839.8 242.4,836.9 256.1,838.9 246.9,841.7" fill="#a4d069" stroke="#2f5c1e" stroke-width="1.1" stroke-linejoin="round" />
<polygon points="261.9,838.6 271.1,835.7 284.8,837.7 275.6,840.6" fill="#a4d069" stroke="#2f5c1e" stroke-width="1.1" stroke-linejoin="round" />
<polygon points="290.6,837.5 299.8,834.6 313.5,836.5 304.3,839.4" fill="#a4d069" stroke="#2f5c1e" stroke-width="1.1" stroke-linejoin="round" />
<polygon points="319.3,836.3 328.5,833.4 342.2,835.4 333.0,838.3" fill="#a4d069" stroke="#2f5c1e" stroke-width="1.1" stroke-linejoin="round" />
<polygon points="348.0,835.1 357.2,832.3 370.9,834.2 361.7,837.1" fill="#a4d069" stroke="#2f5c1e" stroke-width="1.1" stroke-linejoin="round" />
<polygon points="376.7,834.0 385.9,831.1 399.6,833.1 390.4,835.9" fill="#a4d069" stroke="#2f5c1e" stroke-width="1.1" stroke-linejoin="round" />
<polygon points="405.4,832.8 414.6,829.9 428.3,831.9 419.1,834.8" fill="#a4d069" stroke="#2f5c1e" stroke-width="1.1" stroke-linejoin="round" />
<polygon points="434.1,831.7 443.3,828.8 457.0,830.7 447.8,833.6" fill="#a4d069" stroke="#2f5c1e" stroke-width="1.1" stroke-linejoin="round" />
<polygon points="462.8,830.5 472.0,827.6 485.7,829.6 476.5,832.5" fill="#a4d069" stroke="#2f5c1e" stroke-width="1.1" stroke-linejoin="round" />
<polygon points="78.1,849.2 87.3,846.3 101.1,848.3 91.8,851.1" fill="#a4d069" stroke="#2f5c1e" stroke-width="1.1" stroke-linejoin="round" />
<polygon points="106.8,848.0 116.0,845.1 129.8,847.1 120.5,850.0" fill="#a4d069" stroke="#2f5c1e" stroke-width="1.1" stroke-linejoin="round" />
<polygon points="135.5,846.9 144.7,844.0 158.5,845.9 149.2,848.8" fill="#a4d069" stroke="#2f5c1e" stroke-width="1.1" stroke-linejoin="round" />
<polygon points="164.2,845.7 173.4,842.8 187.2,844.8 178.0,847.7" fill="#a4d069" stroke="#2f5c1e" stroke-width="1.1" stroke-linejoin="round" />
<polygon points="192.9,844.5 202.1,841.7 215.9,843.6 206.7,846.5" fill="#a4d069" stroke="#2f5c1e" stroke-width="1.1" stroke-linejoin="round" />
<polygon points="221.6,843.4 230.8,840.5 244.6,842.5 235.4,845.3" fill="#a4d069" stroke="#2f5c1e" stroke-width="1.1" stroke-linejoin="round" />
<polygon points="250.3,842.2 259.5,839.3 273.3,841.3 264.1,844.2" fill="#a4d069" stroke="#2f5c1e" stroke-width="1.1" stroke-linejoin="round" />
<polygon points="279.0,841.1 288.3,838.2 302.0,840.1 292.8,843.0" fill="#a4d069" stroke="#2f5c1e" stroke-width="1.1" stroke-linejoin="round" />
<polygon points="307.7,839.9 317.0,837.0 330.7,839.0 321.5,841.9" fill="#a4d069" stroke="#2f5c1e" stroke-width="1.1" stroke-linejoin="round" />
<polygon points="336.4,838.7 345.7,835.9 359.4,837.8 350.2,840.7" fill="#a4d069" stroke="#2f5c1e" stroke-width="1.1" stroke-linejoin="round" />
<polygon points="365.1,837.6 374.4,834.7 388.1,836.7 378.9,839.5" fill="#a4d069" stroke="#2f5c1e" stroke-width="1.1" stroke-linejoin="round" />
<polygon points="393.9,836.4 403.1,833.5 416.8,835.5 407.6,838.4" fill="#a4d069" stroke="#2f5c1e" stroke-width="1.1" stroke-linejoin="round" />
<polygon points="422.6,835.3 431.8,832.4 445.5,834.3 436.3,837.2" fill="#a4d069" stroke="#2f5c1e" stroke-width="1.1" stroke-linejoin="round" />
<polygon points="451.3,834.1 460.5,831.2 474.2,833.2 465.0,836.1" fill="#a4d069" stroke="#2f5c1e" stroke-width="1.1" stroke-linejoin="round" />
<polygon points="480.0,832.9 489.2,830.1 502.9,832.0 493.7,834.9" fill="#a4d069" stroke="#2f5c1e" stroke-width="1.1" stroke-linejoin="round" />
<polygon points="66.6,789.3 80.3,791.2 80.3,854.7 66.6,852.8" fill="#891418" stroke="#38080a" stroke-width="1.0" stroke-linejoin="round" />
<polygon points="80.3,791.2 89.5,788.4 89.5,851.9 80.3,854.7" fill="#7b1216" stroke="#38080a" stroke-width="1.0" stroke-linejoin="round" />
<polygon points="66.6,789.3 75.8,786.4 89.5,788.4 80.3,791.2" fill="#861418" stroke="#38080a" stroke-width="1.0" stroke-linejoin="round" />
<polygon points="95.3,851.6 104.5,848.7 118.2,850.7 109.0,853.6" fill="#a4d069" stroke="#2f5c1e" stroke-width="1.1" stroke-linejoin="round" />
<polygon points="124.0,850.5 133.2,847.6 146.9,849.5 137.7,852.4" fill="#a4d069" stroke="#2f5c1e" stroke-width="1.1" stroke-linejoin="round" />
<polygon points="152.7,785.8 166.4,787.8 166.4,851.3 152.7,849.3" fill="#891418" stroke="#38080a" stroke-width="1.0" stroke-linejoin="round" />
<polygon points="166.4,787.8 175.6,784.9 175.6,848.4 166.4,851.3" fill="#7b1216" stroke="#38080a" stroke-width="1.0" stroke-linejoin="round" />
<polygon points="152.7,785.8 161.9,782.9 175.6,784.9 166.4,787.8" fill="#861418" stroke="#38080a" stroke-width="1.0" stroke-linejoin="round" />
<polygon points="181.4,848.1 190.6,845.3 204.4,847.2 195.1,850.1" fill="#a4d069" stroke="#2f5c1e" stroke-width="1.1" stroke-linejoin="round" />
<polygon points="210.1,847.0 219.3,844.1 233.1,846.1 223.8,848.9" fill="#a4d069" stroke="#2f5c1e" stroke-width="1.1" stroke-linejoin="round" />
<polygon points="238.8,845.8 248.0,842.9 261.8,844.9 252.5,847.8" fill="#a4d069" stroke="#2f5c1e" stroke-width="1.1" stroke-linejoin="round" />
<polygon points="267.5,844.7 276.7,841.8 290.5,843.7 281.2,846.6" fill="#a4d069" stroke="#2f5c1e" stroke-width="1.1" stroke-linejoin="round" />
<polygon points="296.2,843.5 305.4,840.6 319.2,842.6 310.0,845.5" fill="#a4d069" stroke="#2f5c1e" stroke-width="1.1" stroke-linejoin="round" />
<polygon points="324.9,842.3 334.1,839.5 347.9,841.4 338.7,844.3" fill="#a4d069" stroke="#2f5c1e" stroke-width="1.1" stroke-linejoin="round" />
<polygon points="353.6,841.2 362.8,838.3 376.6,840.3 367.4,843.1" fill="#a4d069" stroke="#2f5c1e" stroke-width="1.1" stroke-linejoin="round" />
<polygon points="382.3,840.0 391.5,837.1 405.3,839.1 396.1,842.0" fill="#a4d069" stroke="#2f5c1e" stroke-width="1.1" stroke-linejoin="round" />
<polygon points="411.0,775.4 424.8,777.3 424.8,840.8 411.0,838.9" fill="#891418" stroke="#38080a" stroke-width="1.0" stroke-linejoin="round" />
<polygon points="424.8,777.3 434.0,774.4 434.0,837.9 424.8,840.8" fill="#7b1216" stroke="#38080a" stroke-width="1.0" stroke-linejoin="round" />
<polygon points="411.0,775.4 420.3,772.5 434.0,774.4 424.8,777.3" fill="#861418" stroke="#38080a" stroke-width="1.0" stroke-linejoin="round" />
<polygon points="439.7,837.7 449.0,834.8 462.7,836.8 453.5,839.7" fill="#a4d069" stroke="#2f5c1e" stroke-width="1.1" stroke-linejoin="round" />
<polygon points="468.4,836.5 477.7,833.7 491.4,835.6 482.2,838.5" fill="#a4d069" stroke="#2f5c1e" stroke-width="1.1" stroke-linejoin="round" />
<polygon points="497.1,771.9 510.9,773.8 510.9,837.3 497.1,835.4" fill="#891418" stroke="#38080a" stroke-width="1.0" stroke-linejoin="round" />
<polygon points="510.9,773.8 520.1,771.0 520.1,834.5 510.9,837.3" fill="#7b1216" stroke="#38080a" stroke-width="1.0" stroke-linejoin="round" />
<polygon points="497.1,771.9 506.4,769.0 520.1,771.0 510.9,773.8" fill="#861418" stroke="#38080a" stroke-width="1.0" stroke-linejoin="round" />
<polygon points="83.8,855.2 93.0,852.3 106.7,854.3 97.5,857.2" fill="#a4d069" stroke="#2f5c1e" stroke-width="1.1" stroke-linejoin="round" />
<polygon points="112.5,854.1 121.7,851.2 135.4,853.1 126.2,856.0" fill="#a4d069" stroke="#2f5c1e" stroke-width="1.1" stroke-linejoin="round" />
<polygon points="141.2,852.9 150.4,850.0 164.1,852.0 154.9,854.9" fill="#a4d069" stroke="#2f5c1e" stroke-width="1.1" stroke-linejoin="round" />
<polygon points="169.9,851.7 179.1,848.9 192.8,850.8 183.6,853.7" fill="#a4d069" stroke="#2f5c1e" stroke-width="1.1" stroke-linejoin="round" />
<polygon points="198.6,850.6 207.8,847.7 221.5,849.7 212.3,852.5" fill="#a4d069" stroke="#2f5c1e" stroke-width="1.1" stroke-linejoin="round" />
<polygon points="227.3,849.4 236.5,846.5 250.2,848.5 241.0,851.4" fill="#a4d069" stroke="#2f5c1e" stroke-width="1.1" stroke-linejoin="round" />
<polygon points="256.0,848.3 265.2,845.4 278.9,847.3 269.7,850.2" fill="#a4d069" stroke="#2f5c1e" stroke-width="1.1" stroke-linejoin="round" />
<polygon points="284.7,847.1 293.9,844.2 307.6,846.2 298.4,849.1" fill="#a4d069" stroke="#2f5c1e" stroke-width="1.1" stroke-linejoin="round" />
<polygon points="313.4,845.9 322.6,843.1 336.4,845.0 327.1,847.9" fill="#a4d069" stroke="#2f5c1e" stroke-width="1.1" stroke-linejoin="round" />
<polygon points="342.1,844.8 351.3,841.9 365.1,843.9 355.8,846.7" fill="#a4d069" stroke="#2f5c1e" stroke-width="1.1" stroke-linejoin="round" />
<polygon points="370.8,843.6 380.0,840.7 393.8,842.7 384.5,845.6" fill="#a4d069" stroke="#2f5c1e" stroke-width="1.1" stroke-linejoin="round" />
<polygon points="399.5,842.5 408.7,839.6 422.5,841.5 413.2,844.4" fill="#a4d069" stroke="#2f5c1e" stroke-width="1.1" stroke-linejoin="round" />
<polygon points="428.2,841.3 437.4,838.4 451.2,840.4 442.0,843.3" fill="#a4d069" stroke="#2f5c1e" stroke-width="1.1" stroke-linejoin="round" />
<polygon points="456.9,840.1 466.1,837.3 479.9,839.2 470.7,842.1" fill="#a4d069" stroke="#2f5c1e" stroke-width="1.1" stroke-linejoin="round" />
<polygon points="485.6,839.0 494.8,836.1 508.6,838.1 499.4,840.9" fill="#a4d069" stroke="#2f5c1e" stroke-width="1.1" stroke-linejoin="round" />
<polygon points="100.9,857.7 110.2,854.8 123.9,856.7 114.7,859.6" fill="#a4d069" stroke="#2f5c1e" stroke-width="1.1" stroke-linejoin="round" />
<polygon points="129.6,856.5 138.9,853.6 152.6,855.6 143.4,858.5" fill="#a4d069" stroke="#2f5c1e" stroke-width="1.1" stroke-linejoin="round" />
<polygon points="158.3,855.3 167.6,852.5 181.3,854.4 172.1,857.3" fill="#a4d069" stroke="#2f5c1e" stroke-width="1.1" stroke-linejoin="round" />
<polygon points="187.0,854.2 196.3,851.3 210.0,853.3 200.8,856.1" fill="#a4d069" stroke="#2f5c1e" stroke-width="1.1" stroke-linejoin="round" />
<polygon points="215.8,853.0 225.0,850.1 238.7,852.1 229.5,855.0" fill="#a4d069" stroke="#2f5c1e" stroke-width="1.1" stroke-linejoin="round" />
<polygon points="244.5,851.9 253.7,849.0 267.4,850.9 258.2,853.8" fill="#a4d069" stroke="#2f5c1e" stroke-width="1.1" stroke-linejoin="round" />
<polygon points="273.2,850.7 282.4,847.8 296.1,849.8 286.9,852.7" fill="#a4d069" stroke="#2f5c1e" stroke-width="1.1" stroke-linejoin="round" />
<polygon points="301.9,849.5 311.1,846.7 324.8,848.6 315.6,851.5" fill="#a4d069" stroke="#2f5c1e" stroke-width="1.1" stroke-linejoin="round" />
<polygon points="330.6,848.4 339.8,845.5 353.5,847.5 344.3,850.3" fill="#a4d069" stroke="#2f5c1e" stroke-width="1.1" stroke-linejoin="round" />
<polygon points="359.3,847.2 368.5,844.3 382.2,846.3 373.0,849.2" fill="#a4d069" stroke="#2f5c1e" stroke-width="1.1" stroke-linejoin="round" />
<polygon points="388.0,846.1 397.2,843.2 410.9,845.1 401.7,848.0" fill="#a4d069" stroke="#2f5c1e" stroke-width="1.1" stroke-linejoin="round" />
<polygon points="416.7,844.9 425.9,842.0 439.6,844.0 430.4,846.9" fill="#a4d069" stroke="#2f5c1e" stroke-width="1.1" stroke-linejoin="round" />
<polygon points="445.4,843.7 454.6,840.9 468.4,842.8 459.1,845.7" fill="#a4d069" stroke="#2f5c1e" stroke-width="1.1" stroke-linejoin="round" />
<polygon points="474.1,842.6 483.3,839.7 497.1,841.7 487.8,844.5" fill="#a4d069" stroke="#2f5c1e" stroke-width="1.1" stroke-linejoin="round" />
<polygon points="118.1,860.1 127.3,857.2 141.1,859.2 131.9,862.1" fill="#a4d069" stroke="#2f5c1e" stroke-width="1.1" stroke-linejoin="round" />
<polygon points="146.8,858.9 156.0,856.1 169.8,858.0 160.6,860.9" fill="#a4d069" stroke="#2f5c1e" stroke-width="1.1" stroke-linejoin="round" />
<polygon points="175.5,857.8 184.7,854.9 198.5,856.9 189.3,859.7" fill="#a4d069" stroke="#2f5c1e" stroke-width="1.1" stroke-linejoin="round" />
<polygon points="204.2,856.6 213.4,853.7 227.2,855.7 218.0,858.6" fill="#a4d069" stroke="#2f5c1e" stroke-width="1.1" stroke-linejoin="round" />
<polygon points="232.9,792.0 246.7,793.9 246.7,857.4 232.9,855.5" fill="#891418" stroke="#38080a" stroke-width="1.0" stroke-linejoin="round" />
<polygon points="246.7,793.9 255.9,791.0 255.9,854.5 246.7,857.4" fill="#7b1216" stroke="#38080a" stroke-width="1.0" stroke-linejoin="round" />
<polygon points="232.9,792.0 242.2,789.1 255.9,791.0 246.7,793.9" fill="#861418" stroke="#38080a" stroke-width="1.0" stroke-linejoin="round" />
<polygon points="261.6,854.3 270.9,851.4 284.6,853.4 275.4,856.3" fill="#a4d069" stroke="#2f5c1e" stroke-width="1.1" stroke-linejoin="round" />
<polygon points="290.3,853.1 299.6,850.3 313.3,852.2 304.1,855.1" fill="#2c3e9c" stroke="#141a5a" stroke-width="1.0" stroke-linejoin="round" />
<polygon points="319.0,852.0 328.3,849.1 342.0,851.1 332.8,853.9" fill="#a4d069" stroke="#2f5c1e" stroke-width="1.1" stroke-linejoin="round" />
<polygon points="347.8,787.3 361.5,789.3 361.5,852.8 347.8,850.8" fill="#891418" stroke="#38080a" stroke-width="1.0" stroke-linejoin="round" />
<polygon points="361.5,789.3 370.7,786.4 370.7,849.9 361.5,852.8" fill="#7b1216" stroke="#38080a" stroke-width="1.0" stroke-linejoin="round" />
<polygon points="347.8,787.3 357.0,784.4 370.7,786.4 361.5,789.3" fill="#861418" stroke="#38080a" stroke-width="1.0" stroke-linejoin="round" />
<polygon points="376.5,849.7 385.7,846.8 399.4,848.7 390.2,851.6" fill="#a4d069" stroke="#2f5c1e" stroke-width="1.1" stroke-linejoin="round" />
<polygon points="405.2,848.5 414.4,845.6 428.1,847.6 418.9,850.5" fill="#a4d069" stroke="#2f5c1e" stroke-width="1.1" stroke-linejoin="round" />
<polygon points="433.9,847.3 443.1,844.5 456.8,846.4 447.6,849.3" fill="#a4d069" stroke="#2f5c1e" stroke-width="1.1" stroke-linejoin="round" />
<polygon points="462.6,846.2 471.8,843.3 485.5,845.3 476.3,848.1" fill="#a4d069" stroke="#2f5c1e" stroke-width="1.1" stroke-linejoin="round" />
<polygon points="135.3,862.5 144.5,859.7 158.3,861.6 149.0,864.5" fill="#a4d069" stroke="#2f5c1e" stroke-width="1.1" stroke-linejoin="round" />
<polygon points="164.0,861.4 173.2,858.5 187.0,860.5 177.7,863.3" fill="#a4d069" stroke="#2f5c1e" stroke-width="1.1" stroke-linejoin="round" />
<polygon points="192.7,860.2 201.9,857.3 215.7,859.3 206.4,862.2" fill="#a4d069" stroke="#2f5c1e" stroke-width="1.1" stroke-linejoin="round" />
<polygon points="221.4,859.1 230.6,856.2 244.4,858.1 235.1,861.0" fill="#a4d069" stroke="#2f5c1e" stroke-width="1.1" stroke-linejoin="round" />
<polygon points="250.1,857.9 259.3,855.0 273.1,857.0 263.9,859.9" fill="#a4d069" stroke="#2f5c1e" stroke-width="1.1" stroke-linejoin="round" />
<polygon points="278.8,856.7 288.0,853.9 301.8,855.8 292.6,858.7" fill="#a4d069" stroke="#2f5c1e" stroke-width="1.1" stroke-linejoin="round" />
<polygon points="307.5,855.6 316.7,852.7 330.5,854.7 321.3,857.5" fill="#a4d069" stroke="#2f5c1e" stroke-width="1.1" stroke-linejoin="round" />
<polygon points="336.2,854.4 345.4,851.5 359.2,853.5 350.0,856.4" fill="#a4d069" stroke="#2f5c1e" stroke-width="1.1" stroke-linejoin="round" />
<polygon points="364.9,853.3 374.2,850.4 387.9,852.3 378.7,855.2" fill="#a4d069" stroke="#2f5c1e" stroke-width="1.1" stroke-linejoin="round" />
<polygon points="393.6,852.1 402.9,849.2 416.6,851.2 407.4,854.1" fill="#a4d069" stroke="#2f5c1e" stroke-width="1.1" stroke-linejoin="round" />
<polygon points="422.3,850.9 431.6,848.1 445.3,850.0 436.1,852.9" fill="#a4d069" stroke="#2f5c1e" stroke-width="1.1" stroke-linejoin="round" />
<polygon points="451.0,849.8 460.3,846.9 474.0,848.9 464.8,851.7" fill="#a4d069" stroke="#2f5c1e" stroke-width="1.1" stroke-linejoin="round" />
<polygon points="152.5,865.0 161.7,862.1 175.4,864.1 166.2,866.9" fill="#a4d069" stroke="#2f5c1e" stroke-width="1.1" stroke-linejoin="round" />
<polygon points="181.2,863.8 190.4,860.9 204.1,862.9 194.9,865.8" fill="#a4d069" stroke="#2f5c1e" stroke-width="1.1" stroke-linejoin="round" />
<polygon points="209.9,862.7 219.1,859.8 232.8,861.7 223.6,864.6" fill="#a4d069" stroke="#2f5c1e" stroke-width="1.1" stroke-linejoin="round" />
<polygon points="238.6,861.5 247.8,858.6 261.5,860.6 252.3,863.5" fill="#a4d069" stroke="#2f5c1e" stroke-width="1.1" stroke-linejoin="round" />
<polygon points="267.3,860.3 276.5,857.5 290.3,859.4 281.0,862.3" fill="#a4d069" stroke="#2f5c1e" stroke-width="1.1" stroke-linejoin="round" />
<polygon points="296.0,795.7 309.7,797.6 309.7,861.1 296.0,859.2" fill="#891418" stroke="#38080a" stroke-width="1.0" stroke-linejoin="round" />
<polygon points="309.7,797.6 319.0,794.8 319.0,858.3 309.7,861.1" fill="#7b1216" stroke="#38080a" stroke-width="1.0" stroke-linejoin="round" />
<polygon points="296.0,795.7 305.2,792.8 319.0,794.8 309.7,797.6" fill="#861418" stroke="#38080a" stroke-width="1.0" stroke-linejoin="round" />
<polygon points="324.7,858.0 333.9,855.1 347.7,857.1 338.4,860.0" fill="#a4d069" stroke="#2f5c1e" stroke-width="1.1" stroke-linejoin="round" />
<polygon points="353.4,856.9 362.6,854.0 376.4,855.9 367.1,858.8" fill="#a4d069" stroke="#2f5c1e" stroke-width="1.1" stroke-linejoin="round" />
<polygon points="382.1,855.7 391.3,852.8 405.1,854.8 395.9,857.7" fill="#a4d069" stroke="#2f5c1e" stroke-width="1.1" stroke-linejoin="round" />
<polygon points="410.8,854.5 420.0,851.7 433.8,853.6 424.6,856.5" fill="#a4d069" stroke="#2f5c1e" stroke-width="1.1" stroke-linejoin="round" />
<polygon points="439.5,853.4 448.7,850.5 462.5,852.5 453.3,855.3" fill="#a4d069" stroke="#2f5c1e" stroke-width="1.1" stroke-linejoin="round" />
<polygon points="169.7,867.4 178.9,864.5 192.6,866.5 183.4,869.4" fill="#a4d069" stroke="#2f5c1e" stroke-width="1.1" stroke-linejoin="round" />
<polygon points="198.4,866.3 207.6,863.4 221.3,865.3 212.1,868.2" fill="#a4d069" stroke="#2f5c1e" stroke-width="1.1" stroke-linejoin="round" />
<polygon points="227.1,865.1 236.3,862.2 250.0,864.2 240.8,867.1" fill="#a4d069" stroke="#2f5c1e" stroke-width="1.1" stroke-linejoin="round" />
<polygon points="255.8,863.9 265.0,861.1 278.7,863.0 269.5,865.9" fill="#a4d069" stroke="#2f5c1e" stroke-width="1.1" stroke-linejoin="round" />
<polygon points="284.5,862.8 293.7,859.9 307.4,861.9 298.2,864.7" fill="#a4d069" stroke="#2f5c1e" stroke-width="1.1" stroke-linejoin="round" />
<polygon points="313.2,861.6 322.4,858.7 336.1,860.7 326.9,863.6" fill="#a4d069" stroke="#2f5c1e" stroke-width="1.1" stroke-linejoin="round" />
<polygon points="341.9,860.5 351.1,857.6 364.8,859.5 355.6,862.4" fill="#a4d069" stroke="#2f5c1e" stroke-width="1.1" stroke-linejoin="round" />
<polygon points="370.6,859.3 379.8,856.4 393.5,858.4 384.3,861.3" fill="#a4d069" stroke="#2f5c1e" stroke-width="1.1" stroke-linejoin="round" />
<polygon points="399.3,858.1 408.5,855.3 422.3,857.2 413.0,860.1" fill="#a4d069" stroke="#2f5c1e" stroke-width="1.1" stroke-linejoin="round" />
<polygon points="428.0,857.0 437.2,854.1 451.0,856.1 441.7,858.9" fill="#a4d069" stroke="#2f5c1e" stroke-width="1.1" stroke-linejoin="round" />
<polygon points="186.8,869.9 196.1,867.0 209.8,868.9 200.6,871.8" fill="#a4d069" stroke="#2f5c1e" stroke-width="1.1" stroke-linejoin="round" />
<polygon points="215.5,868.7 224.8,865.8 238.5,867.8 229.3,870.7" fill="#a4d069" stroke="#2f5c1e" stroke-width="1.1" stroke-linejoin="round" />
<polygon points="244.2,867.5 253.5,864.7 267.2,866.6 258.0,869.5" fill="#a4d069" stroke="#2f5c1e" stroke-width="1.1" stroke-linejoin="round" />
<polygon points="272.9,866.4 282.2,863.5 295.9,865.5 286.7,868.3" fill="#a4d069" stroke="#2f5c1e" stroke-width="1.1" stroke-linejoin="round" />
<polygon points="301.7,865.2 310.9,862.3 324.6,864.3 315.4,867.2" fill="#a4d069" stroke="#2f5c1e" stroke-width="1.1" stroke-linejoin="round" />
<polygon points="330.4,864.1 339.6,861.2 353.3,863.1 344.1,866.0" fill="#a4d069" stroke="#2f5c1e" stroke-width="1.1" stroke-linejoin="round" />
<polygon points="359.1,862.9 368.3,860.0 382.0,862.0 372.8,864.9" fill="#a4d069" stroke="#2f5c1e" stroke-width="1.1" stroke-linejoin="round" />
<polygon points="387.8,861.7 397.0,858.9 410.7,860.8 401.5,863.7" fill="#a4d069" stroke="#2f5c1e" stroke-width="1.1" stroke-linejoin="round" />
<polygon points="416.5,860.6 425.7,857.7 439.4,859.7 430.2,862.5" fill="#a4d069" stroke="#2f5c1e" stroke-width="1.1" stroke-linejoin="round" />
<polygon points="204.0,872.3 213.2,869.4 227.0,871.4 217.8,874.3" fill="#a4d069" stroke="#2f5c1e" stroke-width="1.1" stroke-linejoin="round" />
<polygon points="232.7,871.1 241.9,868.3 255.7,870.2 246.5,873.1" fill="#a4d069" stroke="#2f5c1e" stroke-width="1.1" stroke-linejoin="round" />
<polygon points="261.4,870.0 270.6,867.1 284.4,869.1 275.2,871.9" fill="#a4d069" stroke="#2f5c1e" stroke-width="1.1" stroke-linejoin="round" />
<polygon points="290.1,868.8 299.3,865.9 313.1,867.9 303.9,870.8" fill="#a4d069" stroke="#2f5c1e" stroke-width="1.1" stroke-linejoin="round" />
<polygon points="318.8,867.7 328.1,864.8 341.8,866.7 332.6,869.6" fill="#a4d069" stroke="#2f5c1e" stroke-width="1.1" stroke-linejoin="round" />
<polygon points="347.5,866.5 356.8,863.6 370.5,865.6 361.3,868.5" fill="#a4d069" stroke="#2f5c1e" stroke-width="1.1" stroke-linejoin="round" />
<polygon points="376.2,865.3 385.5,862.5 399.2,864.4 390.0,867.3" fill="#a4d069" stroke="#2f5c1e" stroke-width="1.1" stroke-linejoin="round" />
<polygon points="404.9,864.2 414.2,861.3 427.9,863.3 418.7,866.1" fill="#a4d069" stroke="#2f5c1e" stroke-width="1.1" stroke-linejoin="round" />
<polygon points="221.2,874.7 230.4,871.9 244.2,873.8 234.9,876.7" fill="#a4d069" stroke="#2f5c1e" stroke-width="1.1" stroke-linejoin="round" />
<polygon points="249.9,873.6 259.1,870.7 272.9,872.7 263.6,875.5" fill="#a4d069" stroke="#2f5c1e" stroke-width="1.1" stroke-linejoin="round" />
<polygon points="278.6,872.4 287.8,869.5 301.6,871.5 292.3,874.4" fill="#a4d069" stroke="#2f5c1e" stroke-width="1.1" stroke-linejoin="round" />
<polygon points="307.3,871.3 316.5,868.4 330.3,870.3 321.0,873.2" fill="#a4d069" stroke="#2f5c1e" stroke-width="1.1" stroke-linejoin="round" />
<polygon points="336.0,870.1 345.2,867.2 359.0,869.2 349.8,872.1" fill="#a4d069" stroke="#2f5c1e" stroke-width="1.1" stroke-linejoin="round" />
<polygon points="364.7,868.9 373.9,866.1 387.7,868.0 378.5,870.9" fill="#a4d069" stroke="#2f5c1e" stroke-width="1.1" stroke-linejoin="round" />
<polygon points="393.4,867.8 402.6,864.9 416.4,866.9 407.2,869.7" fill="#a4d069" stroke="#2f5c1e" stroke-width="1.1" stroke-linejoin="round" />
<polygon points="238.4,877.2 247.6,874.3 261.3,876.3 252.1,879.1" fill="#a4d069" stroke="#2f5c1e" stroke-width="1.1" stroke-linejoin="round" />
<polygon points="267.1,876.0 276.3,873.1 290.0,875.1 280.8,878.0" fill="#a4d069" stroke="#2f5c1e" stroke-width="1.1" stroke-linejoin="round" />
<polygon points="295.8,874.9 305.0,872.0 318.7,873.9 309.5,876.8" fill="#a4d069" stroke="#2f5c1e" stroke-width="1.1" stroke-linejoin="round" />
<polygon points="324.5,873.7 333.7,870.8 347.4,872.8 338.2,875.7" fill="#a4d069" stroke="#2f5c1e" stroke-width="1.1" stroke-linejoin="round" />
<polygon points="353.2,872.5 362.4,869.7 376.2,871.6 366.9,874.5" fill="#a4d069" stroke="#2f5c1e" stroke-width="1.1" stroke-linejoin="round" />
<polygon points="381.9,871.4 391.1,868.5 404.9,870.5 395.6,873.3" fill="#a4d069" stroke="#2f5c1e" stroke-width="1.1" stroke-linejoin="round" />
<polygon points="255.6,879.6 264.8,876.7 278.5,878.7 269.3,881.6" fill="#a4d069" stroke="#2f5c1e" stroke-width="1.1" stroke-linejoin="round" />
<polygon points="284.3,878.5 293.5,875.6 307.2,877.5 298.0,880.4" fill="#a4d069" stroke="#2f5c1e" stroke-width="1.1" stroke-linejoin="round" />
<polygon points="313.0,877.3 322.2,874.4 335.9,876.4 326.7,879.3" fill="#a4d069" stroke="#2f5c1e" stroke-width="1.1" stroke-linejoin="round" />
<polygon points="341.7,876.1 350.9,873.3 364.6,875.2 355.4,878.1" fill="#a4d069" stroke="#2f5c1e" stroke-width="1.1" stroke-linejoin="round" />
<polygon points="370.4,875.0 379.6,872.1 393.3,874.1 384.1,876.9" fill="#a4d069" stroke="#2f5c1e" stroke-width="1.1" stroke-linejoin="round" />
<polygon points="272.7,882.1 282.0,879.2 295.7,881.1 286.5,884.0" fill="#a4d069" stroke="#2f5c1e" stroke-width="1.1" stroke-linejoin="round" />
<polygon points="301.4,817.4 315.2,819.4 315.2,882.9 301.4,880.9" fill="#891418" stroke="#38080a" stroke-width="1.0" stroke-linejoin="round" />
<polygon points="315.2,819.4 324.4,816.5 324.4,880.0 315.2,882.9" fill="#7b1216" stroke="#38080a" stroke-width="1.0" stroke-linejoin="round" />
<polygon points="301.4,817.4 310.7,814.5 324.4,816.5 315.2,819.4" fill="#861418" stroke="#38080a" stroke-width="1.0" stroke-linejoin="round" />
<polygon points="330.1,816.2 343.9,818.2 343.9,881.7 330.1,879.7" fill="#891418" stroke="#38080a" stroke-width="1.0" stroke-linejoin="round" />
<polygon points="343.9,818.2 353.1,815.3 353.1,878.8 343.9,881.7" fill="#7b1216" stroke="#38080a" stroke-width="1.0" stroke-linejoin="round" />
<polygon points="330.1,816.2 339.4,813.4 353.1,815.3 343.9,818.2" fill="#861418" stroke="#38080a" stroke-width="1.0" stroke-linejoin="round" />
<polygon points="358.8,878.6 368.1,875.7 381.8,877.7 372.6,880.5" fill="#a4d069" stroke="#2f5c1e" stroke-width="1.1" stroke-linejoin="round" />
<polygon points="289.9,884.5 299.1,881.6 312.9,883.6 303.7,886.5" fill="#a4d069" stroke="#2f5c1e" stroke-width="1.1" stroke-linejoin="round" />
<polygon points="318.6,883.3 327.8,880.5 341.6,882.4 332.4,885.3" fill="#a4d069" stroke="#2f5c1e" stroke-width="1.1" stroke-linejoin="round" />
<polygon points="347.3,882.2 356.5,879.3 370.3,881.3 361.1,884.1" fill="#a4d069" stroke="#2f5c1e" stroke-width="1.1" stroke-linejoin="round" />
<polygon points="307.1,886.9 316.3,884.1 330.1,886.0 320.8,888.9" fill="#a4d069" stroke="#2f5c1e" stroke-width="1.1" stroke-linejoin="round" />
<polygon points="335.8,885.8 345.0,882.9 358.8,884.9 349.5,887.7" fill="#a4d069" stroke="#2f5c1e" stroke-width="1.1" stroke-linejoin="round" />
<polygon points="324.3,889.4 333.5,886.5 347.2,888.5 338.0,891.3" fill="#a4d069" stroke="#2f5c1e" stroke-width="1.1" stroke-linejoin="round" />
<line x1="63.7" y1="918.3" x2="63.7" y2="789.4" stroke="#3a3a3a" stroke-width="2.6" />
<polyline points="63.7,918.3 338.6,957.3 523.0,899.7" fill="none" stroke="#1f1f1f" stroke-width="2.6" stroke-linejoin="miter"/>
<path d="M46.40,807.70 L41.68,807.70 L41.68,779.58 Q41.20,781.09 38.99,782.65 Q35.31,785.11 31.80,786.36 L31.80,782.09 Q35.74,779.98 38.69,776.92 Q41.63,773.86 42.68,771.60 L46.40,771.60 Z" fill="#4d4d4d"/>
<text transform="translate(27.03,867.29) scale(1.0126,1.0254)" font-size="50.0" fill="#4d4d4d">0</text>
<rect x="0.00" y="907.15" width="25.60" height="3.90" fill="#4d4d4d"/>
<path d="M46.40,922.30 L41.72,922.30 L41.72,894.42 Q41.20,895.91 38.99,897.45 Q35.31,899.89 31.80,901.14 L31.80,896.91 Q35.74,894.82 38.69,891.78 Q41.63,888.74 42.72,886.50 L46.40,886.50 Z" fill="#4d4d4d"/>
<polygon points="48.2,929.6 62.1,931.6 62.1,961.6 48.2,959.6" fill="#000000" stroke="none" stroke-width="0" stroke-linejoin="round" />
<polygon points="348.2,963.0 356.5,960.4 356.5,989.4 348.2,992.0" fill="#000000" stroke="none" stroke-width="0" stroke-linejoin="round" />
<polygon points="48.2,962.2 62.1,964.2 62.1,993.7 48.2,991.7" fill="#000000" stroke="none" stroke-width="0" stroke-linejoin="round" />
<polygon points="348.2,994.2 356.5,991.6 356.5,1022.2 348.2,1024.8" fill="#000000" stroke="none" stroke-width="0" stroke-linejoin="round" />
<polygon points="65.3,932.0 79.2,934.0 79.2,964.0 65.3,962.0" fill="#ed1c24" stroke="none" stroke-width="0" stroke-linejoin="round" />
<polygon points="359.8,959.4 368.1,956.8 368.1,985.8 359.8,988.4" fill="#ed1c24" stroke="none" stroke-width="0" stroke-linejoin="round" />
<polygon points="65.3,964.6 79.2,966.6 79.2,996.1 65.3,994.1" fill="#000000" stroke="none" stroke-width="0" stroke-linejoin="round" />
<polygon points="359.8,990.6 368.1,988.0 368.1,1018.6 359.8,1021.2" fill="#000000" stroke="none" stroke-width="0" stroke-linejoin="round" />
<polygon points="82.5,934.5 96.4,936.5 96.4,966.5 82.5,964.5" fill="#3a53a4" stroke="none" stroke-width="0" stroke-linejoin="round" />
<polygon points="371.4,955.8 379.7,953.2 379.7,982.2 371.4,984.8" fill="#3a53a4" stroke="none" stroke-width="0" stroke-linejoin="round" />
<polygon points="82.5,967.1 96.4,969.1 96.4,998.6 82.5,996.6" fill="#000000" stroke="none" stroke-width="0" stroke-linejoin="round" />
<polygon points="371.4,987.0 379.7,984.4 379.7,1015.0 371.4,1017.6" fill="#000000" stroke="none" stroke-width="0" stroke-linejoin="round" />
<polygon points="99.6,936.9 113.5,938.9 113.5,968.9 99.6,966.9" fill="#6abd45" stroke="none" stroke-width="0" stroke-linejoin="round" />
<polygon points="383.0,952.1 391.3,949.5 391.3,978.5 383.0,981.1" fill="#6abd45" stroke="none" stroke-width="0" stroke-linejoin="round" />
<polygon points="99.6,969.5 113.5,971.5 113.5,1001.0 99.6,999.0" fill="#000000" stroke="none" stroke-width="0" stroke-linejoin="round" />
<polygon points="383.0,983.3 391.3,980.7 391.3,1011.3 383.0,1013.9" fill="#000000" stroke="none" stroke-width="0" stroke-linejoin="round" />
<polygon points="116.8,939.4 130.7,941.4 130.7,971.4 116.8,969.4" fill="#000000" stroke="none" stroke-width="0" stroke-linejoin="round" />
<polygon points="394.6,948.5 402.9,945.9 402.9,974.9 394.6,977.5" fill="#000000" stroke="none" stroke-width="0" stroke-linejoin="round" />
<polygon points="116.8,972.0 130.7,974.0 130.7,1003.5 116.8,1001.5" fill="#ed1c24" stroke="none" stroke-width="0" stroke-linejoin="round" />
<polygon points="394.6,979.7 402.9,977.1 402.9,1007.7 394.6,1010.3" fill="#ed1c24" stroke="none" stroke-width="0" stroke-linejoin="round" />
<polygon points="133.9,941.8 147.8,943.8 147.8,973.8 133.9,971.8" fill="#ed1c24" stroke="none" stroke-width="0" stroke-linejoin="round" />
<polygon points="406.1,944.9 414.4,942.3 414.4,971.3 406.1,973.9" fill="#ed1c24" stroke="none" stroke-width="0" stroke-linejoin="round" />
<polygon points="133.9,974.4 147.8,976.4 147.8,1005.9 133.9,1003.9" fill="#ed1c24" stroke="none" stroke-width="0" stroke-linejoin="round" />
<polygon points="406.1,976.1 414.4,973.5 414.4,1004.1 406.1,1006.7" fill="#ed1c24" stroke="none" stroke-width="0" stroke-linejoin="round" />
<polygon points="151.0,944.2 164.9,946.2 164.9,976.2 151.0,974.2" fill="#3a53a4" stroke="none" stroke-width="0" stroke-linejoin="round" />
<polygon points="417.7,941.3 426.0,938.7 426.0,967.7 417.7,970.3" fill="#3a53a4" stroke="none" stroke-width="0" stroke-linejoin="round" />
<polygon points="151.0,976.8 164.9,978.8 164.9,1008.3 151.0,1006.3" fill="#ed1c24" stroke="none" stroke-width="0" stroke-linejoin="round" />
<polygon points="417.7,972.5 426.0,969.9 426.0,1000.5 417.7,1003.1" fill="#ed1c24" stroke="none" stroke-width="0" stroke-linejoin="round" />
<polygon points="168.2,946.7 182.1,948.7 182.1,978.7 168.2,976.7" fill="#6abd45" stroke="none" stroke-width="0" stroke-linejoin="round" />
<polygon points="429.3,937.7 437.6,935.1 437.6,964.1 429.3,966.7" fill="#6abd45" stroke="none" stroke-width="0" stroke-linejoin="round" />
<polygon points="168.2,979.3 182.1,981.3 182.1,1010.8 168.2,1008.8" fill="#ed1c24" stroke="none" stroke-width="0" stroke-linejoin="round" />
<polygon points="429.3,968.9 437.6,966.3 437.6,996.9 429.3,999.5" fill="#ed1c24" stroke="none" stroke-width="0" stroke-linejoin="round" />
<polygon points="185.3,949.1 199.2,951.1 199.2,981.1 185.3,979.1" fill="#000000" stroke="none" stroke-width="0" stroke-linejoin="round" />
<polygon points="440.9,934.0 449.2,931.4 449.2,960.4 440.9,963.0" fill="#000000" stroke="none" stroke-width="0" stroke-linejoin="round" />
<polygon points="185.3,981.7 199.2,983.7 199.2,1013.2 185.3,1011.2" fill="#3a53a4" stroke="none" stroke-width="0" stroke-linejoin="round" />
<polygon points="440.9,965.2 449.2,962.6 449.2,993.2 440.9,995.8" fill="#3a53a4" stroke="none" stroke-width="0" stroke-linejoin="round" />
<polygon points="202.5,951.6 216.4,953.6 216.4,983.6 202.5,981.6" fill="#ed1c24" stroke="none" stroke-width="0" stroke-linejoin="round" />
<polygon points="452.5,930.4 460.8,927.8 460.8,956.8 452.5,959.4" fill="#ed1c24" stroke="none" stroke-width="0" stroke-linejoin="round" />
<polygon points="202.5,984.2 216.4,986.2 216.4,1015.7 202.5,1013.7" fill="#3a53a4" stroke="none" stroke-width="0" stroke-linejoin="round" />
<polygon points="452.5,961.6 460.8,959.0 460.8,989.6 452.5,992.2" fill="#3a53a4" stroke="none" stroke-width="0" stroke-linejoin="round" />
<polygon points="219.6,954.0 233.5,956.0 233.5,986.0 219.6,984.0" fill="#3a53a4" stroke="none" stroke-width="0" stroke-linejoin="round" />
<polygon points="464.1,926.8 472.4,924.2 472.4,953.2 464.1,955.8" fill="#3a53a4" stroke="none" stroke-width="0" stroke-linejoin="round" />
<polygon points="219.6,986.6 233.5,988.6 233.5,1018.1 219.6,1016.1" fill="#3a53a4" stroke="none" stroke-width="0" stroke-linejoin="round" />
<polygon points="464.1,958.0 472.4,955.4 472.4,986.0 464.1,988.6" fill="#3a53a4" stroke="none" stroke-width="0" stroke-linejoin="round" />
<polygon points="236.7,956.4 250.6,958.4 250.6,988.4 236.7,986.4" fill="#6abd45" stroke="none" stroke-width="0" stroke-linejoin="round" />
<polygon points="475.7,923.2 484.0,920.6 484.0,949.6 475.7,952.2" fill="#6abd45" stroke="none" stroke-width="0" stroke-linejoin="round" />
<polygon points="236.7,989.0 250.6,991.0 250.6,1020.5 236.7,1018.5" fill="#3a53a4" stroke="none" stroke-width="0" stroke-linejoin="round" />
<polygon points="475.7,954.4 484.0,951.8 484.0,982.4 475.7,985.0" fill="#3a53a4" stroke="none" stroke-width="0" stroke-linejoin="round" />
<polygon points="253.9,958.9 267.8,960.9 267.8,990.9 253.9,988.9" fill="#000000" stroke="none" stroke-width="0" stroke-linejoin="round" />
<polygon points="487.3,919.6 495.6,917.0 495.6,946.0 487.3,948.6" fill="#000000" stroke="none" stroke-width="0" stroke-linejoin="round" />
<polygon points="253.9,991.5 267.8,993.5 267.8,1023.0 253.9,1021.0" fill="#6abd45" stroke="none" stroke-width="0" stroke-linejoin="round" />
<polygon points="487.3,950.8 495.6,948.2 495.6,978.8 487.3,981.4" fill="#6abd45" stroke="none" stroke-width="0" stroke-linejoin="round" />
<polygon points="271.0,961.3 284.9,963.3 284.9,993.3 271.0,991.3" fill="#ed1c24" stroke="none" stroke-width="0" stroke-linejoin="round" />
<polygon points="498.9,915.9 507.2,913.3 507.2,942.3 498.9,944.9" fill="#ed1c24" stroke="none" stroke-width="0" stroke-linejoin="round" />
<polygon points="271.0,993.9 284.9,995.9 284.9,1025.4 271.0,1023.4" fill="#6abd45" stroke="none" stroke-width="0" stroke-linejoin="round" />
<polygon points="498.9,947.1 507.2,944.5 507.2,975.1 498.9,977.7" fill="#6abd45" stroke="none" stroke-width="0" stroke-linejoin="round" />
<polygon points="288.2,963.8 302.1,965.8 302.1,995.8 288.2,993.8" fill="#3a53a4" stroke="none" stroke-width="0" stroke-linejoin="round" />
<polygon points="510.5,912.3 518.8,909.7 518.8,938.7 510.5,941.3" fill="#3a53a4" stroke="none" stroke-width="0" stroke-linejoin="round" />
<polygon points="288.2,996.4 302.1,998.4 302.1,1027.9 288.2,1025.9" fill="#6abd45" stroke="none" stroke-width="0" stroke-linejoin="round" />
<polygon points="510.5,943.5 518.8,940.9 518.8,971.5 510.5,974.1" fill="#6abd45" stroke="none" stroke-width="0" stroke-linejoin="round" />
<polygon points="305.3,966.2 319.2,968.2 319.2,998.2 305.3,996.2" fill="#6abd45" stroke="none" stroke-width="0" stroke-linejoin="round" />
<polygon points="522.0,908.7 530.3,906.1 530.3,935.1 522.0,937.7" fill="#6abd45" stroke="none" stroke-width="0" stroke-linejoin="round" />
<polygon points="305.3,998.8 319.2,1000.8 319.2,1030.3 305.3,1028.3" fill="#6abd45" stroke="none" stroke-width="0" stroke-linejoin="round" />
<polygon points="522.0,939.9 530.3,937.3 530.3,967.9 522.0,970.5" fill="#6abd45" stroke="none" stroke-width="0" stroke-linejoin="round" />
<polygon points="661.1,918.3 847.0,860.7 1121.9,899.7 936.0,957.3" fill="#fff" stroke="none" stroke-width="0" stroke-linejoin="round" />
<line x1="669.7" y1="919.5" x2="855.6" y2="861.9" stroke="#dedede" stroke-width="2.6" />
<line x1="666.9" y1="916.5" x2="941.8" y2="955.5" stroke="#dedede" stroke-width="2.1" />
<line x1="666.9" y1="916.5" x2="666.9" y2="787.6" stroke="#dedee0" stroke-width="2.2" />
<line x1="855.6" y1="861.9" x2="855.6" y2="733.0" stroke="#dedee0" stroke-width="2.2" />
<line x1="686.9" y1="922.0" x2="872.8" y2="864.4" stroke="#dedede" stroke-width="2.6" />
<line x1="678.5" y1="912.9" x2="953.4" y2="951.9" stroke="#dedede" stroke-width="2.1" />
<line x1="678.5" y1="912.9" x2="678.5" y2="784.0" stroke="#dedee0" stroke-width="2.2" />
<line x1="872.8" y1="864.4" x2="872.8" y2="735.5" stroke="#dedee0" stroke-width="2.2" />
<line x1="704.1" y1="924.4" x2="890.0" y2="866.8" stroke="#dedede" stroke-width="2.6" />
<line x1="690.1" y1="909.3" x2="965.0" y2="948.3" stroke="#dedede" stroke-width="2.1" />
<line x1="690.1" y1="909.3" x2="690.1" y2="780.4" stroke="#dedee0" stroke-width="2.2" />
<line x1="890.0" y1="866.8" x2="890.0" y2="737.9" stroke="#dedee0" stroke-width="2.2" />
<line x1="721.2" y1="926.8" x2="907.1" y2="869.2" stroke="#dedede" stroke-width="2.6" />
<line x1="701.8" y1="905.7" x2="976.6" y2="944.7" stroke="#dedede" stroke-width="2.1" />
<line x1="701.8" y1="905.7" x2="701.8" y2="776.8" stroke="#dedee0" stroke-width="2.2" />
<line x1="907.1" y1="869.2" x2="907.1" y2="740.3" stroke="#dedee0" stroke-width="2.2" />
<line x1="738.4" y1="929.3" x2="924.3" y2="871.7" stroke="#dedede" stroke-width="2.6" />
<line x1="713.4" y1="902.1" x2="988.3" y2="941.1" stroke="#dedede" stroke-width="2.1" />
<line x1="713.4" y1="902.1" x2="713.4" y2="773.2" stroke="#dedee0" stroke-width="2.2" />
<line x1="924.3" y1="871.7" x2="924.3" y2="742.8" stroke="#dedee0" stroke-width="2.2" />
<line x1="755.6" y1="931.7" x2="941.5" y2="874.1" stroke="#dedede" stroke-width="2.6" />
<line x1="725.0" y1="898.5" x2="999.9" y2="937.5" stroke="#dedede" stroke-width="2.1" />
<line x1="725.0" y1="898.5" x2="725.0" y2="769.6" stroke="#dedee0" stroke-width="2.2" />
<line x1="941.5" y1="874.1" x2="941.5" y2="745.2" stroke="#dedee0" stroke-width="2.2" />
<line x1="772.8" y1="934.2" x2="958.7" y2="876.6" stroke="#dedede" stroke-width="2.6" />
<line x1="736.6" y1="894.9" x2="1011.5" y2="933.9" stroke="#dedede" stroke-width="2.1" />
<line x1="736.6" y1="894.9" x2="736.6" y2="766.0" stroke="#dedee0" stroke-width="2.2" />
<line x1="958.7" y1="876.6" x2="958.7" y2="747.7" stroke="#dedee0" stroke-width="2.2" />
<line x1="790.0" y1="936.6" x2="975.9" y2="879.0" stroke="#dedede" stroke-width="2.6" />
<line x1="748.2" y1="891.3" x2="1023.1" y2="930.3" stroke="#dedede" stroke-width="2.1" />
<line x1="748.2" y1="891.3" x2="748.2" y2="762.4" stroke="#dedee0" stroke-width="2.2" />
<line x1="975.9" y1="879.0" x2="975.9" y2="750.1" stroke="#dedee0" stroke-width="2.2" />
<line x1="807.1" y1="939.0" x2="993.0" y2="881.4" stroke="#dedede" stroke-width="2.6" />
<line x1="759.9" y1="887.7" x2="1034.8" y2="926.7" stroke="#dedede" stroke-width="2.1" />
<line x1="759.9" y1="887.7" x2="759.9" y2="758.8" stroke="#dedee0" stroke-width="2.2" />
<line x1="993.0" y1="881.4" x2="993.0" y2="752.5" stroke="#dedee0" stroke-width="2.2" />
<line x1="824.3" y1="941.5" x2="1010.2" y2="883.9" stroke="#dedede" stroke-width="2.6" />
<line x1="771.5" y1="884.1" x2="1046.4" y2="923.1" stroke="#dedede" stroke-width="2.1" />
<line x1="771.5" y1="884.1" x2="771.5" y2="755.2" stroke="#dedee0" stroke-width="2.2" />
<line x1="1010.2" y1="883.9" x2="1010.2" y2="755.0" stroke="#dedee0" stroke-width="2.2" />
<line x1="841.5" y1="943.9" x2="1027.4" y2="886.3" stroke="#dedede" stroke-width="2.6" />
<line x1="783.1" y1="880.5" x2="1058.0" y2="919.5" stroke="#dedede" stroke-width="2.1" />
<line x1="783.1" y1="880.5" x2="783.1" y2="751.6" stroke="#dedee0" stroke-width="2.2" />
<line x1="1027.4" y1="886.3" x2="1027.4" y2="757.4" stroke="#dedee0" stroke-width="2.2" />
<line x1="858.7" y1="946.4" x2="1044.6" y2="888.8" stroke="#dedede" stroke-width="2.6" />
<line x1="794.7" y1="876.9" x2="1069.6" y2="915.9" stroke="#dedede" stroke-width="2.1" />
<line x1="794.7" y1="876.9" x2="794.7" y2="748.0" stroke="#dedee0" stroke-width="2.2" />
<line x1="1044.6" y1="888.8" x2="1044.6" y2="759.9" stroke="#dedee0" stroke-width="2.2" />
<line x1="875.9" y1="948.8" x2="1061.8" y2="891.2" stroke="#dedede" stroke-width="2.6" />
<line x1="806.4" y1="873.3" x2="1081.2" y2="912.3" stroke="#dedede" stroke-width="2.1" />
<line x1="806.4" y1="873.3" x2="806.4" y2="744.4" stroke="#dedee0" stroke-width="2.2" />
<line x1="1061.8" y1="891.2" x2="1061.8" y2="762.3" stroke="#dedee0" stroke-width="2.2" />
<line x1="893.0" y1="951.2" x2="1079.0" y2="893.6" stroke="#dedede" stroke-width="2.6" />
<line x1="818.0" y1="869.7" x2="1092.8" y2="908.7" stroke="#dedede" stroke-width="2.1" />
<line x1="818.0" y1="869.7" x2="818.0" y2="740.8" stroke="#dedee0" stroke-width="2.2" />
<line x1="1079.0" y1="893.6" x2="1079.0" y2="764.7" stroke="#dedee0" stroke-width="2.2" />
<line x1="910.2" y1="953.7" x2="1096.1" y2="896.1" stroke="#dedede" stroke-width="2.6" />
<line x1="829.6" y1="866.1" x2="1104.5" y2="905.1" stroke="#dedede" stroke-width="2.1" />
<line x1="829.6" y1="866.1" x2="829.6" y2="737.2" stroke="#dedee0" stroke-width="2.2" />
<line x1="1096.1" y1="896.1" x2="1096.1" y2="767.2" stroke="#dedee0" stroke-width="2.2" />
<line x1="927.4" y1="956.1" x2="1113.3" y2="898.5" stroke="#dedede" stroke-width="2.6" />
<line x1="841.2" y1="862.5" x2="1116.1" y2="901.5" stroke="#dedede" stroke-width="2.1" />
<line x1="841.2" y1="862.5" x2="841.2" y2="733.6" stroke="#dedee0" stroke-width="2.2" />
<line x1="1113.3" y1="898.5" x2="1113.3" y2="769.6" stroke="#dedee0" stroke-width="2.2" />
<polyline points="661.1,789.4 847.0,731.8 1121.9,770.8" fill="none" stroke="#dedee0" stroke-width="2.2"/>
<polyline points="661.1,918.3 847.0,860.7 1121.9,899.7" fill="none" stroke="#dedee0" stroke-width="1.4"/>
<polygon points="871.6,835.0 885.4,837.0 885.4,892.2 871.6,890.3" fill="#293a9a" stroke="#141a5a" stroke-width="1.0" stroke-linejoin="round" />
<polygon points="885.4,837.0 894.7,834.1 894.7,889.3 885.4,892.2" fill="#243287" stroke="#141a5a" stroke-width="1.0" stroke-linejoin="round" />
<polygon points="888.3,853.1 902.1,855.1 902.1,918.0 888.3,916.0" fill="#293a9a" stroke="#141a5a" stroke-width="1.0" stroke-linejoin="round" />
<polygon points="902.1,855.1 911.4,852.2 911.4,915.1 902.1,918.0" fill="#243287" stroke="#141a5a" stroke-width="1.0" stroke-linejoin="round" />
<polygon points="664.0,852.8 847.6,795.9 1119.0,834.5 935.4,891.3" fill="#42722a" stroke="none" stroke-width="0" stroke-linejoin="round" />
<polygon points="838.3,798.8 847.6,795.9 861.3,797.9 852.0,800.7" fill="#a4d069" stroke="#2f5c1e" stroke-width="1.1" stroke-linejoin="round" />
<polygon points="826.7,802.4 836.0,799.5 849.7,801.5 840.4,804.3" fill="#a4d069" stroke="#2f5c1e" stroke-width="1.1" stroke-linejoin="round" />
<polygon points="855.5,801.2 864.8,798.3 878.5,800.3 869.2,803.2" fill="#a4d069" stroke="#2f5c1e" stroke-width="1.1" stroke-linejoin="round" />
<polygon points="815.0,806.0 824.3,803.1 838.1,805.1 828.8,807.9" fill="#a4d069" stroke="#2f5c1e" stroke-width="1.1" stroke-linejoin="round" />
<polygon points="843.8,804.8 853.1,801.9 866.9,803.9 857.6,806.8" fill="#a4d069" stroke="#2f5c1e" stroke-width="1.1" stroke-linejoin="round" />
<polygon points="872.6,803.7 881.9,800.8 895.7,802.7 886.4,805.6" fill="#a4d069" stroke="#2f5c1e" stroke-width="1.1" stroke-linejoin="round" />
<polygon points="803.4,809.6 812.7,806.7 826.5,808.7 817.2,811.5" fill="#a4d069" stroke="#2f5c1e" stroke-width="1.1" stroke-linejoin="round" />
<polygon points="832.2,755.1 846.0,757.0 846.0,810.4 832.2,808.4" fill="#e0282a" stroke="#5c1011" stroke-width="1.0" stroke-linejoin="round" />
<polygon points="846.0,757.0 855.3,754.2 855.3,807.5 846.0,810.4" fill="#ca2426" stroke="#5c1011" stroke-width="1.0" stroke-linejoin="round" />
<polygon points="832.2,755.1 841.5,752.2 855.3,754.2 846.0,757.0" fill="#dc2729" stroke="#5c1011" stroke-width="1.0" stroke-linejoin="round" />
<polygon points="861.0,747.6 874.8,749.5 874.8,809.2 861.0,807.3" fill="#ad1c20" stroke="#470c0d" stroke-width="1.0" stroke-linejoin="round" />
<polygon points="874.8,749.5 884.1,746.6 884.1,806.3 874.8,809.2" fill="#9c1a1d" stroke="#470c0d" stroke-width="1.0" stroke-linejoin="round" />
<polygon points="861.0,747.6 870.3,744.7 884.1,746.6 874.8,749.5" fill="#aa1c1f" stroke="#470c0d" stroke-width="1.0" stroke-linejoin="round" />
<polygon points="889.8,806.1 899.1,803.2 912.9,805.2 903.6,808.1" fill="#a4d069" stroke="#2f5c1e" stroke-width="1.1" stroke-linejoin="round" />
<polygon points="791.8,813.2 801.1,810.3 814.8,812.3 805.5,815.1" fill="#a4d069" stroke="#2f5c1e" stroke-width="1.1" stroke-linejoin="round" />
<polygon points="820.6,812.0 829.9,809.1 843.6,811.1 834.3,814.0" fill="#a4d069" stroke="#2f5c1e" stroke-width="1.1" stroke-linejoin="round" />
<polygon points="849.4,810.9 858.7,808.0 872.4,809.9 863.1,812.8" fill="#a4d069" stroke="#2f5c1e" stroke-width="1.1" stroke-linejoin="round" />
<polygon points="878.2,809.7 887.5,806.8 901.2,808.8 891.9,811.7" fill="#a4d069" stroke="#2f5c1e" stroke-width="1.1" stroke-linejoin="round" />
<polygon points="907.0,808.5 916.3,805.7 930.0,807.6 920.7,810.5" fill="#a4d069" stroke="#2f5c1e" stroke-width="1.1" stroke-linejoin="round" />
<polygon points="780.2,816.8 789.5,813.9 803.2,815.9 793.9,818.7" fill="#a4d069" stroke="#2f5c1e" stroke-width="1.1" stroke-linejoin="round" />
<polygon points="809.0,815.6 818.3,812.7 832.0,814.7 822.7,817.6" fill="#a4d069" stroke="#2f5c1e" stroke-width="1.1" stroke-linejoin="round" />
<polygon points="837.8,814.5 847.1,811.6 860.8,813.5 851.5,816.4" fill="#a4d069" stroke="#2f5c1e" stroke-width="1.1" stroke-linejoin="round" />
<polygon points="866.6,813.3 875.9,810.4 889.6,812.4 880.3,815.3" fill="#a4d069" stroke="#2f5c1e" stroke-width="1.1" stroke-linejoin="round" />
<polygon points="895.4,812.1 904.7,809.3 918.4,811.2 909.1,814.1" fill="#a4d069" stroke="#2f5c1e" stroke-width="1.1" stroke-linejoin="round" />
<polygon points="924.2,811.0 933.5,808.1 947.2,810.1 937.9,812.9" fill="#a4d069" stroke="#2f5c1e" stroke-width="1.1" stroke-linejoin="round" />
<polygon points="768.6,820.4 777.9,817.5 791.6,819.5 782.3,822.3" fill="#a4d069" stroke="#2f5c1e" stroke-width="1.1" stroke-linejoin="round" />
<polygon points="797.4,819.2 806.7,816.3 820.4,818.3 811.1,821.2" fill="#a4d069" stroke="#2f5c1e" stroke-width="1.1" stroke-linejoin="round" />
<polygon points="826.2,818.1 835.5,815.2 849.2,817.1 839.9,820.0" fill="#a4d069" stroke="#2f5c1e" stroke-width="1.1" stroke-linejoin="round" />
<polygon points="855.0,816.9 864.3,814.0 878.0,816.0 868.7,818.9" fill="#a4d069" stroke="#2f5c1e" stroke-width="1.1" stroke-linejoin="round" />
<polygon points="883.8,815.7 893.1,812.9 906.8,814.8 897.5,817.7" fill="#a4d069" stroke="#2f5c1e" stroke-width="1.1" stroke-linejoin="round" />
<polygon points="912.6,814.6 921.9,811.7 935.6,813.7 926.3,816.5" fill="#a4d069" stroke="#2f5c1e" stroke-width="1.1" stroke-linejoin="round" />
<polygon points="941.4,813.4 950.7,810.5 964.4,812.5 955.1,815.4" fill="#a4d069" stroke="#2f5c1e" stroke-width="1.1" stroke-linejoin="round" />
<polygon points="756.9,824.0 766.2,821.1 780.0,823.1 770.7,825.9" fill="#a4d069" stroke="#2f5c1e" stroke-width="1.1" stroke-linejoin="round" />
<polygon points="785.7,822.8 795.0,819.9 808.8,821.9 799.5,824.8" fill="#a4d069" stroke="#2f5c1e" stroke-width="1.1" stroke-linejoin="round" />
<polygon points="814.5,821.7 823.8,818.8 837.6,820.7 828.3,823.6" fill="#a4d069" stroke="#2f5c1e" stroke-width="1.1" stroke-linejoin="round" />
<polygon points="843.3,820.5 852.6,817.6 866.4,819.6 857.1,822.5" fill="#a4d069" stroke="#2f5c1e" stroke-width="1.1" stroke-linejoin="round" />
<polygon points="872.1,819.3 881.4,816.5 895.2,818.4 885.9,821.3" fill="#a4d069" stroke="#2f5c1e" stroke-width="1.1" stroke-linejoin="round" />
<polygon points="900.9,818.2 910.2,815.3 924.0,817.3 914.7,820.1" fill="#a4d069" stroke="#2f5c1e" stroke-width="1.1" stroke-linejoin="round" />
<polygon points="929.7,817.0 939.0,814.1 952.8,816.1 943.5,819.0" fill="#a4d069" stroke="#2f5c1e" stroke-width="1.1" stroke-linejoin="round" />
<polygon points="958.5,815.9 967.8,813.0 981.6,814.9 972.3,817.8" fill="#a4d069" stroke="#2f5c1e" stroke-width="1.1" stroke-linejoin="round" />
<polygon points="745.3,827.6 754.6,824.7 768.4,826.7 759.1,829.5" fill="#a4d069" stroke="#2f5c1e" stroke-width="1.1" stroke-linejoin="round" />
<polygon points="774.1,826.4 783.4,823.5 797.2,825.5 787.9,828.4" fill="#a4d069" stroke="#2f5c1e" stroke-width="1.1" stroke-linejoin="round" />
<polygon points="802.9,825.3 812.2,822.4 826.0,824.3 816.7,827.2" fill="#a4d069" stroke="#2f5c1e" stroke-width="1.1" stroke-linejoin="round" />
<polygon points="831.7,824.1 841.0,821.2 854.8,823.2 845.5,826.1" fill="#a4d069" stroke="#2f5c1e" stroke-width="1.1" stroke-linejoin="round" />
<polygon points="860.5,822.9 869.8,820.1 883.6,822.0 874.3,824.9" fill="#a4d069" stroke="#2f5c1e" stroke-width="1.1" stroke-linejoin="round" />
<polygon points="889.3,821.8 898.6,818.9 912.4,820.9 903.1,823.7" fill="#a4d069" stroke="#2f5c1e" stroke-width="1.1" stroke-linejoin="round" />
<polygon points="918.1,820.6 927.4,817.7 941.2,819.7 931.9,822.6" fill="#a4d069" stroke="#2f5c1e" stroke-width="1.1" stroke-linejoin="round" />
<polygon points="946.9,819.5 956.2,816.6 970.0,818.5 960.7,821.4" fill="#a4d069" stroke="#2f5c1e" stroke-width="1.1" stroke-linejoin="round" />
<polygon points="975.7,818.3 985.0,815.4 998.8,817.4 989.5,820.3" fill="#a4d069" stroke="#2f5c1e" stroke-width="1.1" stroke-linejoin="round" />
<polygon points="733.7,831.2 743.0,828.3 756.7,830.3 747.4,833.1" fill="#a4d069" stroke="#2f5c1e" stroke-width="1.1" stroke-linejoin="round" />
<polygon points="762.5,830.0 771.8,827.1 785.5,829.1 776.2,832.0" fill="#a4d069" stroke="#2f5c1e" stroke-width="1.1" stroke-linejoin="round" />
<polygon points="791.3,828.9 800.6,826.0 814.3,827.9 805.0,830.8" fill="#a4d069" stroke="#2f5c1e" stroke-width="1.1" stroke-linejoin="round" />
<polygon points="820.1,827.7 829.4,824.8 843.1,826.8 833.8,829.7" fill="#a4d069" stroke="#2f5c1e" stroke-width="1.1" stroke-linejoin="round" />
<polygon points="848.9,826.5 858.2,823.7 871.9,825.6 862.6,828.5" fill="#a4d069" stroke="#2f5c1e" stroke-width="1.1" stroke-linejoin="round" />
<polygon points="877.7,825.4 887.0,822.5 900.7,824.5 891.4,827.3" fill="#a4d069" stroke="#2f5c1e" stroke-width="1.1" stroke-linejoin="round" />
<polygon points="906.5,824.2 915.8,821.3 929.5,823.3 920.2,826.2" fill="#a4d069" stroke="#2f5c1e" stroke-width="1.1" stroke-linejoin="round" />
<polygon points="935.3,823.1 944.6,820.2 958.3,822.1 949.0,825.0" fill="#a4d069" stroke="#2f5c1e" stroke-width="1.1" stroke-linejoin="round" />
<polygon points="964.1,821.9 973.4,819.0 987.1,821.0 977.8,823.9" fill="#a4d069" stroke="#2f5c1e" stroke-width="1.1" stroke-linejoin="round" />
<polygon points="992.9,820.7 1002.2,817.9 1015.9,819.8 1006.6,822.7" fill="#a4d069" stroke="#2f5c1e" stroke-width="1.1" stroke-linejoin="round" />
<polygon points="722.1,834.8 731.4,831.9 745.1,833.9 735.8,836.7" fill="#a4d069" stroke="#2f5c1e" stroke-width="1.1" stroke-linejoin="round" />
<polygon points="750.9,833.6 760.2,830.7 773.9,832.7 764.6,835.6" fill="#a4d069" stroke="#2f5c1e" stroke-width="1.1" stroke-linejoin="round" />
<polygon points="779.7,832.5 789.0,829.6 802.7,831.5 793.4,834.4" fill="#a4d069" stroke="#2f5c1e" stroke-width="1.1" stroke-linejoin="round" />
<polygon points="808.5,831.3 817.8,828.4 831.5,830.4 822.2,833.3" fill="#a4d069" stroke="#2f5c1e" stroke-width="1.1" stroke-linejoin="round" />
<polygon points="837.3,830.1 846.6,827.3 860.3,829.2 851.0,832.1" fill="#a4d069" stroke="#2f5c1e" stroke-width="1.1" stroke-linejoin="round" />
<polygon points="866.1,769.3 879.8,771.2 879.8,830.9 866.1,829.0" fill="#ad1c20" stroke="#470c0d" stroke-width="1.0" stroke-linejoin="round" />
<polygon points="879.8,771.2 889.1,768.4 889.1,828.1 879.8,830.9" fill="#9c1a1d" stroke="#470c0d" stroke-width="1.0" stroke-linejoin="round" />
<polygon points="866.1,769.3 875.4,766.4 889.1,768.4 879.8,771.2" fill="#aa1c1f" stroke="#470c0d" stroke-width="1.0" stroke-linejoin="round" />
<polygon points="894.9,827.8 904.2,824.9 917.9,826.9 908.6,829.8" fill="#a4d069" stroke="#2f5c1e" stroke-width="1.1" stroke-linejoin="round" />
<polygon points="923.7,826.7 933.0,823.8 946.7,825.7 937.4,828.6" fill="#a4d069" stroke="#2f5c1e" stroke-width="1.1" stroke-linejoin="round" />
<polygon points="952.5,825.5 961.8,822.6 975.5,824.6 966.2,827.5" fill="#a4d069" stroke="#2f5c1e" stroke-width="1.1" stroke-linejoin="round" />
<polygon points="981.3,824.3 990.6,821.5 1004.3,823.4 995.0,826.3" fill="#a4d069" stroke="#2f5c1e" stroke-width="1.1" stroke-linejoin="round" />
<polygon points="1010.1,823.2 1019.4,820.3 1033.1,822.3 1023.8,825.1" fill="#a4d069" stroke="#2f5c1e" stroke-width="1.1" stroke-linejoin="round" />
<polygon points="710.5,838.4 719.8,835.5 733.5,837.5 724.2,840.3" fill="#a4d069" stroke="#2f5c1e" stroke-width="1.1" stroke-linejoin="round" />
<polygon points="739.3,837.2 748.6,834.3 762.3,836.3 753.0,839.2" fill="#a4d069" stroke="#2f5c1e" stroke-width="1.1" stroke-linejoin="round" />
<polygon points="768.1,836.1 777.4,833.2 791.1,835.1 781.8,838.0" fill="#a4d069" stroke="#2f5c1e" stroke-width="1.1" stroke-linejoin="round" />
<polygon points="796.9,834.9 806.2,832.0 819.9,834.0 810.6,836.9" fill="#a4d069" stroke="#2f5c1e" stroke-width="1.1" stroke-linejoin="round" />
<polygon points="825.7,833.7 835.0,830.9 848.7,832.8 839.4,835.7" fill="#a4d069" stroke="#2f5c1e" stroke-width="1.1" stroke-linejoin="round" />
<polygon points="854.5,832.6 863.8,829.7 877.5,831.7 868.2,834.5" fill="#a4d069" stroke="#2f5c1e" stroke-width="1.1" stroke-linejoin="round" />
<polygon points="883.3,831.4 892.6,828.5 906.3,830.5 897.0,833.4" fill="#a4d069" stroke="#2f5c1e" stroke-width="1.1" stroke-linejoin="round" />
<polygon points="912.1,830.3 921.4,827.4 935.1,829.3 925.8,832.2" fill="#a4d069" stroke="#2f5c1e" stroke-width="1.1" stroke-linejoin="round" />
<polygon points="940.9,829.1 950.2,826.2 963.9,828.2 954.6,831.1" fill="#a4d069" stroke="#2f5c1e" stroke-width="1.1" stroke-linejoin="round" />
<polygon points="969.7,827.9 979.0,825.1 992.7,827.0 983.4,829.9" fill="#a4d069" stroke="#2f5c1e" stroke-width="1.1" stroke-linejoin="round" />
<polygon points="998.5,826.8 1007.8,823.9 1021.5,825.9 1012.2,828.7" fill="#a4d069" stroke="#2f5c1e" stroke-width="1.1" stroke-linejoin="round" />
<polygon points="1027.3,825.6 1036.6,822.7 1050.3,824.7 1041.0,827.6" fill="#a4d069" stroke="#2f5c1e" stroke-width="1.1" stroke-linejoin="round" />
<polygon points="698.8,842.0 708.1,839.1 721.9,841.1 712.6,843.9" fill="#a4d069" stroke="#2f5c1e" stroke-width="1.1" stroke-linejoin="round" />
<polygon points="727.6,840.8 736.9,837.9 750.7,839.9 741.4,842.8" fill="#a4d069" stroke="#2f5c1e" stroke-width="1.1" stroke-linejoin="round" />
<polygon points="756.4,839.7 765.7,836.8 779.5,838.7 770.2,841.6" fill="#a4d069" stroke="#2f5c1e" stroke-width="1.1" stroke-linejoin="round" />
<polygon points="785.2,838.5 794.5,835.6 808.3,837.6 799.0,840.5" fill="#a4d069" stroke="#2f5c1e" stroke-width="1.1" stroke-linejoin="round" />
<polygon points="814.0,776.4 827.8,778.3 827.8,839.3 814.0,837.3" fill="#a11a1d" stroke="#420b0c" stroke-width="1.0" stroke-linejoin="round" />
<polygon points="827.8,778.3 837.1,775.5 837.1,836.4 827.8,839.3" fill="#91171a" stroke="#420b0c" stroke-width="1.0" stroke-linejoin="round" />
<polygon points="814.0,776.4 823.3,773.5 837.1,775.5 827.8,778.3" fill="#9e191d" stroke="#420b0c" stroke-width="1.0" stroke-linejoin="round" />
<polygon points="842.8,836.2 852.1,833.3 865.9,835.3 856.6,838.1" fill="#a4d069" stroke="#2f5c1e" stroke-width="1.1" stroke-linejoin="round" />
<polygon points="871.6,835.0 880.9,832.1 894.7,834.1 885.4,837.0" fill="#2c3e9c" stroke="#141a5a" stroke-width="1.0" stroke-linejoin="round" />
<polygon points="900.4,833.9 909.7,831.0 923.5,832.9 914.2,835.8" fill="#a4d069" stroke="#2f5c1e" stroke-width="1.1" stroke-linejoin="round" />
<polygon points="929.2,774.3 943.0,776.2 943.0,834.7 929.2,832.7" fill="#b91f22" stroke="#4c0d0e" stroke-width="1.0" stroke-linejoin="round" />
<polygon points="943.0,776.2 952.3,773.4 952.3,831.8 943.0,834.7" fill="#a71c1f" stroke="#4c0d0e" stroke-width="1.0" stroke-linejoin="round" />
<polygon points="929.2,774.3 938.5,771.4 952.3,773.4 943.0,776.2" fill="#b51e21" stroke="#4c0d0e" stroke-width="1.0" stroke-linejoin="round" />
<polygon points="958.0,831.5 967.3,828.7 981.1,830.6 971.8,833.5" fill="#a4d069" stroke="#2f5c1e" stroke-width="1.1" stroke-linejoin="round" />
<polygon points="986.8,830.4 996.1,827.5 1009.9,829.5 1000.6,832.3" fill="#a4d069" stroke="#2f5c1e" stroke-width="1.1" stroke-linejoin="round" />
<polygon points="1015.6,829.2 1024.9,826.3 1038.7,828.3 1029.4,831.2" fill="#a4d069" stroke="#2f5c1e" stroke-width="1.1" stroke-linejoin="round" />
<polygon points="1044.4,828.1 1053.7,825.2 1067.5,827.1 1058.2,830.0" fill="#a4d069" stroke="#2f5c1e" stroke-width="1.1" stroke-linejoin="round" />
<polygon points="687.2,845.6 696.5,842.7 710.3,844.7 701.0,847.5" fill="#a4d069" stroke="#2f5c1e" stroke-width="1.1" stroke-linejoin="round" />
<polygon points="716.0,844.4 725.3,841.5 739.1,843.5 729.8,846.4" fill="#a4d069" stroke="#2f5c1e" stroke-width="1.1" stroke-linejoin="round" />
<polygon points="744.8,843.3 754.1,840.4 767.9,842.3 758.6,845.2" fill="#a4d069" stroke="#2f5c1e" stroke-width="1.1" stroke-linejoin="round" />
<polygon points="773.6,842.1 782.9,839.2 796.7,841.2 787.4,844.1" fill="#a4d069" stroke="#2f5c1e" stroke-width="1.1" stroke-linejoin="round" />
<polygon points="802.4,840.9 811.7,838.1 825.5,840.0 816.2,842.9" fill="#a4d069" stroke="#2f5c1e" stroke-width="1.1" stroke-linejoin="round" />
<polygon points="831.2,839.8 840.5,836.9 854.3,838.9 845.0,841.7" fill="#a4d069" stroke="#2f5c1e" stroke-width="1.1" stroke-linejoin="round" />
<polygon points="860.0,838.6 869.3,835.7 883.1,837.7 873.8,840.6" fill="#a4d069" stroke="#2f5c1e" stroke-width="1.1" stroke-linejoin="round" />
<polygon points="888.8,837.5 898.1,834.6 911.9,836.5 902.6,839.4" fill="#a4d069" stroke="#2f5c1e" stroke-width="1.1" stroke-linejoin="round" />
<polygon points="917.6,836.3 926.9,833.4 940.7,835.4 931.4,838.3" fill="#a4d069" stroke="#2f5c1e" stroke-width="1.1" stroke-linejoin="round" />
<polygon points="946.4,835.1 955.7,832.3 969.5,834.2 960.2,837.1" fill="#a4d069" stroke="#2f5c1e" stroke-width="1.1" stroke-linejoin="round" />
<polygon points="975.2,834.0 984.5,831.1 998.3,833.1 989.0,835.9" fill="#a4d069" stroke="#2f5c1e" stroke-width="1.1" stroke-linejoin="round" />
<polygon points="1004.0,832.8 1013.3,829.9 1027.1,831.9 1017.8,834.8" fill="#a4d069" stroke="#2f5c1e" stroke-width="1.1" stroke-linejoin="round" />
<polygon points="1032.8,831.7 1042.1,828.8 1055.9,830.7 1046.6,833.6" fill="#a4d069" stroke="#2f5c1e" stroke-width="1.1" stroke-linejoin="round" />
<polygon points="1061.6,830.5 1070.9,827.6 1084.7,829.6 1075.4,832.5" fill="#a4d069" stroke="#2f5c1e" stroke-width="1.1" stroke-linejoin="round" />
<polygon points="675.6,849.2 684.9,846.3 698.6,848.3 689.3,851.1" fill="#a4d069" stroke="#2f5c1e" stroke-width="1.1" stroke-linejoin="round" />
<polygon points="704.4,848.0 713.7,845.1 727.4,847.1 718.1,850.0" fill="#a4d069" stroke="#2f5c1e" stroke-width="1.1" stroke-linejoin="round" />
<polygon points="733.2,846.9 742.5,844.0 756.2,845.9 746.9,848.8" fill="#a4d069" stroke="#2f5c1e" stroke-width="1.1" stroke-linejoin="round" />
<polygon points="762.0,845.7 771.3,842.8 785.0,844.8 775.7,847.7" fill="#a4d069" stroke="#2f5c1e" stroke-width="1.1" stroke-linejoin="round" />
<polygon points="790.8,844.5 800.1,841.7 813.8,843.6 804.5,846.5" fill="#a4d069" stroke="#2f5c1e" stroke-width="1.1" stroke-linejoin="round" />
<polygon points="819.6,843.4 828.9,840.5 842.6,842.5 833.3,845.3" fill="#a4d069" stroke="#2f5c1e" stroke-width="1.1" stroke-linejoin="round" />
<polygon points="848.4,842.2 857.7,839.3 871.4,841.3 862.1,844.2" fill="#a4d069" stroke="#2f5c1e" stroke-width="1.1" stroke-linejoin="round" />
<polygon points="877.2,841.1 886.5,838.2 900.2,840.1 890.9,843.0" fill="#a4d069" stroke="#2f5c1e" stroke-width="1.1" stroke-linejoin="round" />
<polygon points="906.0,839.9 915.3,837.0 929.0,839.0 919.7,841.9" fill="#a4d069" stroke="#2f5c1e" stroke-width="1.1" stroke-linejoin="round" />
<polygon points="934.8,838.7 944.1,835.9 957.8,837.8 948.5,840.7" fill="#a4d069" stroke="#2f5c1e" stroke-width="1.1" stroke-linejoin="round" />
<polygon points="963.6,837.6 972.9,834.7 986.6,836.7 977.3,839.5" fill="#a4d069" stroke="#2f5c1e" stroke-width="1.1" stroke-linejoin="round" />
<polygon points="992.4,836.4 1001.7,833.5 1015.4,835.5 1006.1,838.4" fill="#a4d069" stroke="#2f5c1e" stroke-width="1.1" stroke-linejoin="round" />
<polygon points="1021.2,835.3 1030.5,832.4 1044.2,834.3 1034.9,837.2" fill="#a4d069" stroke="#2f5c1e" stroke-width="1.1" stroke-linejoin="round" />
<polygon points="1050.0,834.1 1059.3,831.2 1073.0,833.2 1063.7,836.1" fill="#a4d069" stroke="#2f5c1e" stroke-width="1.1" stroke-linejoin="round" />
<polygon points="1078.8,832.9 1088.1,830.1 1101.8,832.0 1092.5,834.9" fill="#a4d069" stroke="#2f5c1e" stroke-width="1.1" stroke-linejoin="round" />
<polygon points="664.0,789.3 677.7,791.2 677.7,854.7 664.0,852.8" fill="#891418" stroke="#38080a" stroke-width="1.0" stroke-linejoin="round" />
<polygon points="677.7,791.2 687.0,788.4 687.0,851.9 677.7,854.7" fill="#7b1216" stroke="#38080a" stroke-width="1.0" stroke-linejoin="round" />
<polygon points="664.0,789.3 673.3,786.4 687.0,788.4 677.7,791.2" fill="#861418" stroke="#38080a" stroke-width="1.0" stroke-linejoin="round" />
<polygon points="692.8,851.6 702.1,848.7 715.8,850.7 706.5,853.6" fill="#a4d069" stroke="#2f5c1e" stroke-width="1.1" stroke-linejoin="round" />
<polygon points="721.6,850.5 730.9,847.6 744.6,849.5 735.3,852.4" fill="#a4d069" stroke="#2f5c1e" stroke-width="1.1" stroke-linejoin="round" />
<polygon points="750.4,791.5 764.1,793.5 764.1,851.3 750.4,849.3" fill="#b91f22" stroke="#4c0d0e" stroke-width="1.0" stroke-linejoin="round" />
<polygon points="764.1,793.5 773.4,790.6 773.4,848.4 764.1,851.3" fill="#a71c1f" stroke="#4c0d0e" stroke-width="1.0" stroke-linejoin="round" />
<polygon points="750.4,791.5 759.7,788.6 773.4,790.6 764.1,793.5" fill="#b51e21" stroke="#4c0d0e" stroke-width="1.0" stroke-linejoin="round" />
<polygon points="779.2,848.1 788.5,845.3 802.2,847.2 792.9,850.1" fill="#a4d069" stroke="#2f5c1e" stroke-width="1.1" stroke-linejoin="round" />
<polygon points="808.0,847.0 817.3,844.1 831.0,846.1 821.7,848.9" fill="#a4d069" stroke="#2f5c1e" stroke-width="1.1" stroke-linejoin="round" />
<polygon points="836.8,845.8 846.1,842.9 859.8,844.9 850.5,847.8" fill="#a4d069" stroke="#2f5c1e" stroke-width="1.1" stroke-linejoin="round" />
<polygon points="865.6,844.7 874.9,841.8 888.6,843.7 879.3,846.6" fill="#a4d069" stroke="#2f5c1e" stroke-width="1.1" stroke-linejoin="round" />
<polygon points="894.4,843.5 903.7,840.6 917.4,842.6 908.1,845.5" fill="#a4d069" stroke="#2f5c1e" stroke-width="1.1" stroke-linejoin="round" />
<polygon points="923.2,842.3 932.5,839.5 946.2,841.4 936.9,844.3" fill="#a4d069" stroke="#2f5c1e" stroke-width="1.1" stroke-linejoin="round" />
<polygon points="952.0,841.2 961.3,838.3 975.0,840.3 965.7,843.1" fill="#a4d069" stroke="#2f5c1e" stroke-width="1.1" stroke-linejoin="round" />
<polygon points="980.8,840.0 990.1,837.1 1003.8,839.1 994.5,842.0" fill="#a4d069" stroke="#2f5c1e" stroke-width="1.1" stroke-linejoin="round" />
<polygon points="1009.6,777.3 1023.3,779.2 1023.3,840.8 1009.6,838.9" fill="#9b181c" stroke="#400a0c" stroke-width="1.0" stroke-linejoin="round" />
<polygon points="1023.3,779.2 1032.6,776.3 1032.6,837.9 1023.3,840.8" fill="#8c1619" stroke="#400a0c" stroke-width="1.0" stroke-linejoin="round" />
<polygon points="1009.6,777.3 1018.9,774.4 1032.6,776.3 1023.3,779.2" fill="#98181c" stroke="#400a0c" stroke-width="1.0" stroke-linejoin="round" />
<polygon points="1038.4,837.7 1047.7,834.8 1061.4,836.8 1052.1,839.7" fill="#a4d069" stroke="#2f5c1e" stroke-width="1.1" stroke-linejoin="round" />
<polygon points="1067.2,836.5 1076.5,833.7 1090.2,835.6 1080.9,838.5" fill="#a4d069" stroke="#2f5c1e" stroke-width="1.1" stroke-linejoin="round" />
<polygon points="1096.0,778.2 1109.7,780.2 1109.7,837.3 1096.0,835.4" fill="#aa1c1f" stroke="#460b0d" stroke-width="1.0" stroke-linejoin="round" />
<polygon points="1109.7,780.2 1119.0,777.3 1119.0,834.5 1109.7,837.3" fill="#99191c" stroke="#460b0d" stroke-width="1.0" stroke-linejoin="round" />
<polygon points="1096.0,778.2 1105.3,775.4 1119.0,777.3 1109.7,780.2" fill="#a71b1e" stroke="#460b0d" stroke-width="1.0" stroke-linejoin="round" />
<polygon points="681.2,855.2 690.5,852.3 704.2,854.3 694.9,857.2" fill="#a4d069" stroke="#2f5c1e" stroke-width="1.1" stroke-linejoin="round" />
<polygon points="710.0,854.1 719.3,851.2 733.0,853.1 723.7,856.0" fill="#a4d069" stroke="#2f5c1e" stroke-width="1.1" stroke-linejoin="round" />
<polygon points="738.8,852.9 748.1,850.0 761.8,852.0 752.5,854.9" fill="#a4d069" stroke="#2f5c1e" stroke-width="1.1" stroke-linejoin="round" />
<polygon points="767.6,851.7 776.9,848.9 790.6,850.8 781.3,853.7" fill="#a4d069" stroke="#2f5c1e" stroke-width="1.1" stroke-linejoin="round" />
<polygon points="796.4,850.6 805.7,847.7 819.4,849.7 810.1,852.5" fill="#a4d069" stroke="#2f5c1e" stroke-width="1.1" stroke-linejoin="round" />
<polygon points="825.2,849.4 834.5,846.5 848.2,848.5 838.9,851.4" fill="#a4d069" stroke="#2f5c1e" stroke-width="1.1" stroke-linejoin="round" />
<polygon points="854.0,848.3 863.3,845.4 877.0,847.3 867.7,850.2" fill="#a4d069" stroke="#2f5c1e" stroke-width="1.1" stroke-linejoin="round" />
<polygon points="882.8,847.1 892.1,844.2 905.8,846.2 896.5,849.1" fill="#a4d069" stroke="#2f5c1e" stroke-width="1.1" stroke-linejoin="round" />
<polygon points="911.6,845.9 920.9,843.1 934.6,845.0 925.3,847.9" fill="#a4d069" stroke="#2f5c1e" stroke-width="1.1" stroke-linejoin="round" />
<polygon points="940.4,844.8 949.7,841.9 963.4,843.9 954.1,846.7" fill="#a4d069" stroke="#2f5c1e" stroke-width="1.1" stroke-linejoin="round" />
<polygon points="969.2,843.6 978.5,840.7 992.2,842.7 982.9,845.6" fill="#a4d069" stroke="#2f5c1e" stroke-width="1.1" stroke-linejoin="round" />
<polygon points="998.0,842.5 1007.3,839.6 1021.0,841.5 1011.7,844.4" fill="#a4d069" stroke="#2f5c1e" stroke-width="1.1" stroke-linejoin="round" />
<polygon points="1026.8,841.3 1036.1,838.4 1049.8,840.4 1040.5,843.3" fill="#a4d069" stroke="#2f5c1e" stroke-width="1.1" stroke-linejoin="round" />
<polygon points="1055.6,840.1 1064.9,837.3 1078.6,839.2 1069.3,842.1" fill="#a4d069" stroke="#2f5c1e" stroke-width="1.1" stroke-linejoin="round" />
<polygon points="1084.4,839.0 1093.7,836.1 1107.4,838.1 1098.1,840.9" fill="#a4d069" stroke="#2f5c1e" stroke-width="1.1" stroke-linejoin="round" />
<polygon points="698.3,857.7 707.6,854.8 721.4,856.7 712.1,859.6" fill="#a4d069" stroke="#2f5c1e" stroke-width="1.1" stroke-linejoin="round" />
<polygon points="727.1,856.5 736.4,853.6 750.2,855.6 740.9,858.5" fill="#a4d069" stroke="#2f5c1e" stroke-width="1.1" stroke-linejoin="round" />
<polygon points="755.9,855.3 765.2,852.5 779.0,854.4 769.7,857.3" fill="#a4d069" stroke="#2f5c1e" stroke-width="1.1" stroke-linejoin="round" />
<polygon points="784.7,854.2 794.0,851.3 807.8,853.3 798.5,856.1" fill="#a4d069" stroke="#2f5c1e" stroke-width="1.1" stroke-linejoin="round" />
<polygon points="813.5,853.0 822.8,850.1 836.6,852.1 827.3,855.0" fill="#a4d069" stroke="#2f5c1e" stroke-width="1.1" stroke-linejoin="round" />
<polygon points="842.3,851.9 851.6,849.0 865.4,850.9 856.1,853.8" fill="#a4d069" stroke="#2f5c1e" stroke-width="1.1" stroke-linejoin="round" />
<polygon points="871.1,850.7 880.4,847.8 894.2,849.8 884.9,852.7" fill="#a4d069" stroke="#2f5c1e" stroke-width="1.1" stroke-linejoin="round" />
<polygon points="899.9,849.5 909.2,846.7 923.0,848.6 913.7,851.5" fill="#a4d069" stroke="#2f5c1e" stroke-width="1.1" stroke-linejoin="round" />
<polygon points="928.7,848.4 938.0,845.5 951.8,847.5 942.5,850.3" fill="#a4d069" stroke="#2f5c1e" stroke-width="1.1" stroke-linejoin="round" />
<polygon points="957.5,847.2 966.8,844.3 980.6,846.3 971.3,849.2" fill="#a4d069" stroke="#2f5c1e" stroke-width="1.1" stroke-linejoin="round" />
<polygon points="986.3,846.1 995.6,843.2 1009.4,845.1 1000.1,848.0" fill="#a4d069" stroke="#2f5c1e" stroke-width="1.1" stroke-linejoin="round" />
<polygon points="1015.1,844.9 1024.4,842.0 1038.2,844.0 1028.9,846.9" fill="#a4d069" stroke="#2f5c1e" stroke-width="1.1" stroke-linejoin="round" />
<polygon points="1043.9,843.7 1053.2,840.9 1067.0,842.8 1057.7,845.7" fill="#a4d069" stroke="#2f5c1e" stroke-width="1.1" stroke-linejoin="round" />
<polygon points="1072.7,842.6 1082.0,839.7 1095.8,841.7 1086.5,844.5" fill="#a4d069" stroke="#2f5c1e" stroke-width="1.1" stroke-linejoin="round" />
<polygon points="715.5,860.1 724.8,857.2 738.6,859.2 729.3,862.1" fill="#a4d069" stroke="#2f5c1e" stroke-width="1.1" stroke-linejoin="round" />
<polygon points="744.3,858.9 753.6,856.1 767.4,858.0 758.1,860.9" fill="#a4d069" stroke="#2f5c1e" stroke-width="1.1" stroke-linejoin="round" />
<polygon points="773.1,857.8 782.4,854.9 796.2,856.9 786.9,859.7" fill="#a4d069" stroke="#2f5c1e" stroke-width="1.1" stroke-linejoin="round" />
<polygon points="801.9,856.6 811.2,853.7 825.0,855.7 815.7,858.6" fill="#a4d069" stroke="#2f5c1e" stroke-width="1.1" stroke-linejoin="round" />
<polygon points="830.7,795.8 844.5,797.7 844.5,857.4 830.7,855.5" fill="#ad1c20" stroke="#470c0d" stroke-width="1.0" stroke-linejoin="round" />
<polygon points="844.5,797.7 853.8,794.8 853.8,854.5 844.5,857.4" fill="#9c1a1d" stroke="#470c0d" stroke-width="1.0" stroke-linejoin="round" />
<polygon points="830.7,795.8 840.0,792.9 853.8,794.8 844.5,797.7" fill="#aa1c1f" stroke="#470c0d" stroke-width="1.0" stroke-linejoin="round" />
<polygon points="859.5,854.3 868.8,851.4 882.6,853.4 873.3,856.3" fill="#a4d069" stroke="#2f5c1e" stroke-width="1.1" stroke-linejoin="round" />
<polygon points="888.3,853.1 897.6,850.3 911.4,852.2 902.1,855.1" fill="#2c3e9c" stroke="#141a5a" stroke-width="1.0" stroke-linejoin="round" />
<polygon points="917.1,852.0 926.4,849.1 940.2,851.1 930.9,853.9" fill="#a4d069" stroke="#2f5c1e" stroke-width="1.1" stroke-linejoin="round" />
<polygon points="945.9,791.8 959.7,793.7 959.7,852.8 945.9,850.8" fill="#b31e21" stroke="#4a0c0e" stroke-width="1.0" stroke-linejoin="round" />
<polygon points="959.7,793.7 969.0,790.8 969.0,849.9 959.7,852.8" fill="#a11b1e" stroke="#4a0c0e" stroke-width="1.0" stroke-linejoin="round" />
<polygon points="945.9,791.8 955.2,788.9 969.0,790.8 959.7,793.7" fill="#b01d20" stroke="#4a0c0e" stroke-width="1.0" stroke-linejoin="round" />
<polygon points="974.7,849.7 984.0,846.8 997.8,848.7 988.5,851.6" fill="#a4d069" stroke="#2f5c1e" stroke-width="1.1" stroke-linejoin="round" />
<polygon points="1003.5,848.5 1012.8,845.6 1026.6,847.6 1017.3,850.5" fill="#a4d069" stroke="#2f5c1e" stroke-width="1.1" stroke-linejoin="round" />
<polygon points="1032.3,847.3 1041.6,844.5 1055.4,846.4 1046.1,849.3" fill="#a4d069" stroke="#2f5c1e" stroke-width="1.1" stroke-linejoin="round" />
<polygon points="1061.1,846.2 1070.4,843.3 1084.2,845.3 1074.9,848.1" fill="#a4d069" stroke="#2f5c1e" stroke-width="1.1" stroke-linejoin="round" />
<polygon points="732.7,862.5 742.0,859.7 755.7,861.6 746.4,864.5" fill="#a4d069" stroke="#2f5c1e" stroke-width="1.1" stroke-linejoin="round" />
<polygon points="761.5,861.4 770.8,858.5 784.5,860.5 775.2,863.3" fill="#a4d069" stroke="#2f5c1e" stroke-width="1.1" stroke-linejoin="round" />
<polygon points="790.3,860.2 799.6,857.3 813.3,859.3 804.0,862.2" fill="#a4d069" stroke="#2f5c1e" stroke-width="1.1" stroke-linejoin="round" />
<polygon points="819.1,859.1 828.4,856.2 842.1,858.1 832.8,861.0" fill="#a4d069" stroke="#2f5c1e" stroke-width="1.1" stroke-linejoin="round" />
<polygon points="847.9,857.9 857.2,855.0 870.9,857.0 861.6,859.9" fill="#a4d069" stroke="#2f5c1e" stroke-width="1.1" stroke-linejoin="round" />
<polygon points="876.7,856.7 886.0,853.9 899.7,855.8 890.4,858.7" fill="#a4d069" stroke="#2f5c1e" stroke-width="1.1" stroke-linejoin="round" />
<polygon points="905.5,855.6 914.8,852.7 928.5,854.7 919.2,857.5" fill="#a4d069" stroke="#2f5c1e" stroke-width="1.1" stroke-linejoin="round" />
<polygon points="934.3,854.4 943.6,851.5 957.3,853.5 948.0,856.4" fill="#a4d069" stroke="#2f5c1e" stroke-width="1.1" stroke-linejoin="round" />
<polygon points="963.1,853.3 972.4,850.4 986.1,852.3 976.8,855.2" fill="#a4d069" stroke="#2f5c1e" stroke-width="1.1" stroke-linejoin="round" />
<polygon points="991.9,852.1 1001.2,849.2 1014.9,851.2 1005.6,854.1" fill="#a4d069" stroke="#2f5c1e" stroke-width="1.1" stroke-linejoin="round" />
<polygon points="1020.7,850.9 1030.0,848.1 1043.7,850.0 1034.4,852.9" fill="#a4d069" stroke="#2f5c1e" stroke-width="1.1" stroke-linejoin="round" />
<polygon points="1049.5,849.8 1058.8,846.9 1072.5,848.9 1063.2,851.7" fill="#a4d069" stroke="#2f5c1e" stroke-width="1.1" stroke-linejoin="round" />
<polygon points="749.9,865.0 759.2,862.1 772.9,864.1 763.6,866.9" fill="#a4d069" stroke="#2f5c1e" stroke-width="1.1" stroke-linejoin="round" />
<polygon points="778.7,863.8 788.0,860.9 801.7,862.9 792.4,865.8" fill="#a4d069" stroke="#2f5c1e" stroke-width="1.1" stroke-linejoin="round" />
<polygon points="807.5,862.7 816.8,859.8 830.5,861.7 821.2,864.6" fill="#a4d069" stroke="#2f5c1e" stroke-width="1.1" stroke-linejoin="round" />
<polygon points="836.3,861.5 845.6,858.6 859.3,860.6 850.0,863.5" fill="#a4d069" stroke="#2f5c1e" stroke-width="1.1" stroke-linejoin="round" />
<polygon points="865.1,860.3 874.4,857.5 888.1,859.4 878.8,862.3" fill="#a4d069" stroke="#2f5c1e" stroke-width="1.1" stroke-linejoin="round" />
<polygon points="893.9,803.3 907.6,805.3 907.6,861.1 893.9,859.2" fill="#d12427" stroke="#560f10" stroke-width="1.0" stroke-linejoin="round" />
<polygon points="907.6,805.3 916.9,802.4 916.9,858.3 907.6,861.1" fill="#bd2123" stroke="#560f10" stroke-width="1.0" stroke-linejoin="round" />
<polygon points="893.9,803.3 903.2,800.4 916.9,802.4 907.6,805.3" fill="#cd2426" stroke="#560f10" stroke-width="1.0" stroke-linejoin="round" />
<polygon points="922.7,858.0 932.0,855.1 945.7,857.1 936.4,860.0" fill="#a4d069" stroke="#2f5c1e" stroke-width="1.1" stroke-linejoin="round" />
<polygon points="951.5,856.9 960.8,854.0 974.5,855.9 965.2,858.8" fill="#a4d069" stroke="#2f5c1e" stroke-width="1.1" stroke-linejoin="round" />
<polygon points="980.3,855.7 989.6,852.8 1003.3,854.8 994.0,857.7" fill="#a4d069" stroke="#2f5c1e" stroke-width="1.1" stroke-linejoin="round" />
<polygon points="1009.1,854.5 1018.4,851.7 1032.1,853.6 1022.8,856.5" fill="#a4d069" stroke="#2f5c1e" stroke-width="1.1" stroke-linejoin="round" />
<polygon points="1037.9,853.4 1047.2,850.5 1060.9,852.5 1051.6,855.3" fill="#a4d069" stroke="#2f5c1e" stroke-width="1.1" stroke-linejoin="round" />
<polygon points="767.1,867.4 776.4,864.5 790.1,866.5 780.8,869.4" fill="#a4d069" stroke="#2f5c1e" stroke-width="1.1" stroke-linejoin="round" />
<polygon points="795.9,866.3 805.2,863.4 818.9,865.3 809.6,868.2" fill="#a4d069" stroke="#2f5c1e" stroke-width="1.1" stroke-linejoin="round" />
<polygon points="824.7,865.1 834.0,862.2 847.7,864.2 838.4,867.1" fill="#a4d069" stroke="#2f5c1e" stroke-width="1.1" stroke-linejoin="round" />
<polygon points="853.5,863.9 862.8,861.1 876.5,863.0 867.2,865.9" fill="#a4d069" stroke="#2f5c1e" stroke-width="1.1" stroke-linejoin="round" />
<polygon points="882.3,862.8 891.6,859.9 905.3,861.9 896.0,864.7" fill="#a4d069" stroke="#2f5c1e" stroke-width="1.1" stroke-linejoin="round" />
<polygon points="911.1,861.6 920.4,858.7 934.1,860.7 924.8,863.6" fill="#a4d069" stroke="#2f5c1e" stroke-width="1.1" stroke-linejoin="round" />
<polygon points="939.9,860.5 949.2,857.6 962.9,859.5 953.6,862.4" fill="#a4d069" stroke="#2f5c1e" stroke-width="1.1" stroke-linejoin="round" />
<polygon points="968.7,859.3 978.0,856.4 991.7,858.4 982.4,861.3" fill="#a4d069" stroke="#2f5c1e" stroke-width="1.1" stroke-linejoin="round" />
<polygon points="997.5,858.1 1006.8,855.3 1020.5,857.2 1011.2,860.1" fill="#a4d069" stroke="#2f5c1e" stroke-width="1.1" stroke-linejoin="round" />
<polygon points="1026.3,857.0 1035.6,854.1 1049.3,856.1 1040.0,858.9" fill="#a4d069" stroke="#2f5c1e" stroke-width="1.1" stroke-linejoin="round" />
<polygon points="784.2,869.9 793.5,867.0 807.3,868.9 798.0,871.8" fill="#a4d069" stroke="#2f5c1e" stroke-width="1.1" stroke-linejoin="round" />
<polygon points="813.0,868.7 822.3,865.8 836.1,867.8 826.8,870.7" fill="#a4d069" stroke="#2f5c1e" stroke-width="1.1" stroke-linejoin="round" />
<polygon points="841.8,867.5 851.1,864.7 864.9,866.6 855.6,869.5" fill="#a4d069" stroke="#2f5c1e" stroke-width="1.1" stroke-linejoin="round" />
<polygon points="870.6,866.4 879.9,863.5 893.7,865.5 884.4,868.3" fill="#a4d069" stroke="#2f5c1e" stroke-width="1.1" stroke-linejoin="round" />
<polygon points="899.4,865.2 908.7,862.3 922.5,864.3 913.2,867.2" fill="#a4d069" stroke="#2f5c1e" stroke-width="1.1" stroke-linejoin="round" />
<polygon points="928.2,864.1 937.5,861.2 951.3,863.1 942.0,866.0" fill="#a4d069" stroke="#2f5c1e" stroke-width="1.1" stroke-linejoin="round" />
<polygon points="957.0,862.9 966.3,860.0 980.1,862.0 970.8,864.9" fill="#a4d069" stroke="#2f5c1e" stroke-width="1.1" stroke-linejoin="round" />
<polygon points="985.8,861.7 995.1,858.9 1008.9,860.8 999.6,863.7" fill="#a4d069" stroke="#2f5c1e" stroke-width="1.1" stroke-linejoin="round" />
<polygon points="1014.6,860.6 1023.9,857.7 1037.7,859.7 1028.4,862.5" fill="#a4d069" stroke="#2f5c1e" stroke-width="1.1" stroke-linejoin="round" />
<polygon points="801.4,872.3 810.7,869.4 824.5,871.4 815.2,874.3" fill="#a4d069" stroke="#2f5c1e" stroke-width="1.1" stroke-linejoin="round" />
<polygon points="830.2,871.1 839.5,868.3 853.3,870.2 844.0,873.1" fill="#a4d069" stroke="#2f5c1e" stroke-width="1.1" stroke-linejoin="round" />
<polygon points="859.0,870.0 868.3,867.1 882.1,869.1 872.8,871.9" fill="#a4d069" stroke="#2f5c1e" stroke-width="1.1" stroke-linejoin="round" />
<polygon points="887.8,868.8 897.1,865.9 910.9,867.9 901.6,870.8" fill="#a4d069" stroke="#2f5c1e" stroke-width="1.1" stroke-linejoin="round" />
<polygon points="916.6,867.7 925.9,864.8 939.7,866.7 930.4,869.6" fill="#a4d069" stroke="#2f5c1e" stroke-width="1.1" stroke-linejoin="round" />
<polygon points="945.4,866.5 954.7,863.6 968.5,865.6 959.2,868.5" fill="#a4d069" stroke="#2f5c1e" stroke-width="1.1" stroke-linejoin="round" />
<polygon points="974.2,865.3 983.5,862.5 997.3,864.4 988.0,867.3" fill="#a4d069" stroke="#2f5c1e" stroke-width="1.1" stroke-linejoin="round" />
<polygon points="1003.0,864.2 1012.3,861.3 1026.1,863.3 1016.8,866.1" fill="#a4d069" stroke="#2f5c1e" stroke-width="1.1" stroke-linejoin="round" />
<polygon points="818.6,874.7 827.9,871.9 841.6,873.8 832.3,876.7" fill="#a4d069" stroke="#2f5c1e" stroke-width="1.1" stroke-linejoin="round" />
<polygon points="847.4,873.6 856.7,870.7 870.4,872.7 861.1,875.5" fill="#a4d069" stroke="#2f5c1e" stroke-width="1.1" stroke-linejoin="round" />
<polygon points="876.2,872.4 885.5,869.5 899.2,871.5 889.9,874.4" fill="#a4d069" stroke="#2f5c1e" stroke-width="1.1" stroke-linejoin="round" />
<polygon points="905.0,871.3 914.3,868.4 928.0,870.3 918.7,873.2" fill="#a4d069" stroke="#2f5c1e" stroke-width="1.1" stroke-linejoin="round" />
<polygon points="933.8,870.1 943.1,867.2 956.8,869.2 947.5,872.1" fill="#a4d069" stroke="#2f5c1e" stroke-width="1.1" stroke-linejoin="round" />
<polygon points="962.6,868.9 971.9,866.1 985.6,868.0 976.3,870.9" fill="#a4d069" stroke="#2f5c1e" stroke-width="1.1" stroke-linejoin="round" />
<polygon points="991.4,867.8 1000.7,864.9 1014.4,866.9 1005.1,869.7" fill="#a4d069" stroke="#2f5c1e" stroke-width="1.1" stroke-linejoin="round" />
<polygon points="835.8,877.2 845.1,874.3 858.8,876.3 849.5,879.1" fill="#a4d069" stroke="#2f5c1e" stroke-width="1.1" stroke-linejoin="round" />
<polygon points="864.6,876.0 873.9,873.1 887.6,875.1 878.3,878.0" fill="#a4d069" stroke="#2f5c1e" stroke-width="1.1" stroke-linejoin="round" />
<polygon points="893.4,874.9 902.7,872.0 916.4,873.9 907.1,876.8" fill="#a4d069" stroke="#2f5c1e" stroke-width="1.1" stroke-linejoin="round" />
<polygon points="922.2,873.7 931.5,870.8 945.2,872.8 935.9,875.7" fill="#a4d069" stroke="#2f5c1e" stroke-width="1.1" stroke-linejoin="round" />
<polygon points="951.0,872.5 960.3,869.7 974.0,871.6 964.7,874.5" fill="#a4d069" stroke="#2f5c1e" stroke-width="1.1" stroke-linejoin="round" />
<polygon points="979.8,871.4 989.1,868.5 1002.8,870.5 993.5,873.3" fill="#a4d069" stroke="#2f5c1e" stroke-width="1.1" stroke-linejoin="round" />
<polygon points="853.0,879.6 862.3,876.7 876.0,878.7 866.7,881.6" fill="#a4d069" stroke="#2f5c1e" stroke-width="1.1" stroke-linejoin="round" />
<polygon points="881.8,878.5 891.1,875.6 904.8,877.5 895.5,880.4" fill="#a4d069" stroke="#2f5c1e" stroke-width="1.1" stroke-linejoin="round" />
<polygon points="910.6,877.3 919.9,874.4 933.6,876.4 924.3,879.3" fill="#a4d069" stroke="#2f5c1e" stroke-width="1.1" stroke-linejoin="round" />
<polygon points="939.4,876.1 948.7,873.3 962.4,875.2 953.1,878.1" fill="#a4d069" stroke="#2f5c1e" stroke-width="1.1" stroke-linejoin="round" />
<polygon points="968.2,875.0 977.5,872.1 991.2,874.1 981.9,876.9" fill="#a4d069" stroke="#2f5c1e" stroke-width="1.1" stroke-linejoin="round" />
<polygon points="870.1,882.1 879.4,879.2 893.2,881.1 883.9,884.0" fill="#a4d069" stroke="#2f5c1e" stroke-width="1.1" stroke-linejoin="round" />
<polygon points="898.9,825.7 912.7,827.6 912.7,882.9 898.9,880.9" fill="#d72628" stroke="#591010" stroke-width="1.0" stroke-linejoin="round" />
<polygon points="912.7,827.6 922.0,824.7 922.0,880.0 912.7,882.9" fill="#c22224" stroke="#591010" stroke-width="1.0" stroke-linejoin="round" />
<polygon points="898.9,825.7 908.2,822.8 922.0,824.7 912.7,827.6" fill="#d32527" stroke="#591010" stroke-width="1.0" stroke-linejoin="round" />
<polygon points="927.7,819.4 941.5,821.4 941.5,881.7 927.7,879.7" fill="#9e191d" stroke="#410a0c" stroke-width="1.0" stroke-linejoin="round" />
<polygon points="941.5,821.4 950.8,818.5 950.8,878.8 941.5,881.7" fill="#8e171a" stroke="#410a0c" stroke-width="1.0" stroke-linejoin="round" />
<polygon points="927.7,819.4 937.0,816.5 950.8,818.5 941.5,821.4" fill="#9b191c" stroke="#410a0c" stroke-width="1.0" stroke-linejoin="round" />
<polygon points="956.5,878.6 965.8,875.7 979.6,877.7 970.3,880.5" fill="#a4d069" stroke="#2f5c1e" stroke-width="1.1" stroke-linejoin="round" />
<polygon points="887.3,884.5 896.6,881.6 910.4,883.6 901.1,886.5" fill="#a4d069" stroke="#2f5c1e" stroke-width="1.1" stroke-linejoin="round" />
<polygon points="916.1,883.3 925.4,880.5 939.2,882.4 929.9,885.3" fill="#a4d069" stroke="#2f5c1e" stroke-width="1.1" stroke-linejoin="round" />
<polygon points="944.9,882.2 954.2,879.3 968.0,881.3 958.7,884.1" fill="#a4d069" stroke="#2f5c1e" stroke-width="1.1" stroke-linejoin="round" />
<polygon points="904.5,886.9 913.8,884.1 927.5,886.0 918.2,888.9" fill="#a4d069" stroke="#2f5c1e" stroke-width="1.1" stroke-linejoin="round" />
<polygon points="933.3,885.8 942.6,882.9 956.3,884.9 947.0,887.7" fill="#a4d069" stroke="#2f5c1e" stroke-width="1.1" stroke-linejoin="round" />
<polygon points="921.7,889.4 931.0,886.5 944.7,888.5 935.4,891.3" fill="#a4d069" stroke="#2f5c1e" stroke-width="1.1" stroke-linejoin="round" />
<line x1="661.1" y1="918.3" x2="661.1" y2="789.4" stroke="#3a3a3a" stroke-width="2.6" />
<polyline points="661.1,918.3 936.0,957.3 1121.9,899.7" fill="none" stroke="#1f1f1f" stroke-width="2.6" stroke-linejoin="miter"/>
<path d="M644.00,807.70 L639.28,807.70 L639.28,779.58 Q638.80,781.09 636.59,782.65 Q632.91,785.11 629.40,786.36 L629.40,782.09 Q633.34,779.98 636.29,776.92 Q639.23,773.86 640.28,771.60 L644.00,771.60 Z" fill="#4d4d4d"/>
<text transform="translate(624.63,867.29) scale(1.0126,1.0254)" font-size="50.0" fill="#4d4d4d">0</text>
<rect x="597.60" y="907.15" width="25.60" height="3.90" fill="#4d4d4d"/>
<path d="M644.00,922.30 L639.32,922.30 L639.32,894.42 Q638.80,895.91 636.59,897.45 Q632.91,899.89 629.40,901.14 L629.40,896.91 Q633.34,894.82 636.29,891.78 Q639.23,888.74 640.32,886.50 L644.00,886.50 Z" fill="#4d4d4d"/>
<polygon points="646.0,929.6 659.9,931.6 659.9,961.6 646.0,959.6" fill="#000000" stroke="none" stroke-width="0" stroke-linejoin="round" />
<polygon points="946.5,964.0 954.8,961.4 954.8,990.4 946.5,993.0" fill="#000000" stroke="none" stroke-width="0" stroke-linejoin="round" />
<polygon points="646.0,962.2 659.9,964.2 659.9,993.7 646.0,991.7" fill="#000000" stroke="none" stroke-width="0" stroke-linejoin="round" />
<polygon points="946.5,995.2 954.8,992.6 954.8,1023.2 946.5,1025.8" fill="#000000" stroke="none" stroke-width="0" stroke-linejoin="round" />
<polygon points="663.1,932.0 677.0,934.0 677.0,964.0 663.1,962.0" fill="#ed1c24" stroke="none" stroke-width="0" stroke-linejoin="round" />
<polygon points="958.1,960.4 966.4,957.8 966.4,986.8 958.1,989.4" fill="#ed1c24" stroke="none" stroke-width="0" stroke-linejoin="round" />
<polygon points="663.1,964.6 677.0,966.6 677.0,996.1 663.1,994.1" fill="#000000" stroke="none" stroke-width="0" stroke-linejoin="round" />
<polygon points="958.1,991.6 966.4,989.0 966.4,1019.6 958.1,1022.2" fill="#000000" stroke="none" stroke-width="0" stroke-linejoin="round" />
<polygon points="680.3,934.5 694.2,936.5 694.2,966.5 680.3,964.5" fill="#3a53a4" stroke="none" stroke-width="0" stroke-linejoin="round" />
<polygon points="969.7,956.8 978.0,954.2 978.0,983.2 969.7,985.8" fill="#3a53a4" stroke="none" stroke-width="0" stroke-linejoin="round" />
<polygon points="680.3,967.1 694.2,969.1 694.2,998.6 680.3,996.6" fill="#000000" stroke="none" stroke-width="0" stroke-linejoin="round" />
<polygon points="969.7,988.0 978.0,985.4 978.0,1016.0 969.7,1018.6" fill="#000000" stroke="none" stroke-width="0" stroke-linejoin="round" />
<polygon points="697.4,936.9 711.3,938.9 711.3,968.9 697.4,966.9" fill="#6abd45" stroke="none" stroke-width="0" stroke-linejoin="round" />
<polygon points="981.3,953.1 989.6,950.5 989.6,979.5 981.3,982.1" fill="#6abd45" stroke="none" stroke-width="0" stroke-linejoin="round" />
<polygon points="697.4,969.5 711.3,971.5 711.3,1001.0 697.4,999.0" fill="#000000" stroke="none" stroke-width="0" stroke-linejoin="round" />
<polygon points="981.3,984.3 989.6,981.7 989.6,1012.3 981.3,1014.9" fill="#000000" stroke="none" stroke-width="0" stroke-linejoin="round" />
<polygon points="714.6,939.4 728.5,941.4 728.5,971.4 714.6,969.4" fill="#000000" stroke="none" stroke-width="0" stroke-linejoin="round" />
<polygon points="992.9,949.5 1001.2,946.9 1001.2,975.9 992.9,978.5" fill="#000000" stroke="none" stroke-width="0" stroke-linejoin="round" />
<polygon points="714.6,972.0 728.5,974.0 728.5,1003.5 714.6,1001.5" fill="#ed1c24" stroke="none" stroke-width="0" stroke-linejoin="round" />
<polygon points="992.9,980.7 1001.2,978.1 1001.2,1008.7 992.9,1011.3" fill="#ed1c24" stroke="none" stroke-width="0" stroke-linejoin="round" />
<polygon points="731.7,941.8 745.6,943.8 745.6,973.8 731.7,971.8" fill="#ed1c24" stroke="none" stroke-width="0" stroke-linejoin="round" />
<polygon points="1004.4,945.9 1012.7,943.3 1012.7,972.3 1004.4,974.9" fill="#ed1c24" stroke="none" stroke-width="0" stroke-linejoin="round" />
<polygon points="731.7,974.4 745.6,976.4 745.6,1005.9 731.7,1003.9" fill="#ed1c24" stroke="none" stroke-width="0" stroke-linejoin="round" />
<polygon points="1004.4,977.1 1012.7,974.5 1012.7,1005.1 1004.4,1007.7" fill="#ed1c24" stroke="none" stroke-width="0" stroke-linejoin="round" />
<polygon points="748.8,944.2 762.7,946.2 762.7,976.2 748.8,974.2" fill="#3a53a4" stroke="none" stroke-width="0" stroke-linejoin="round" />
<polygon points="1016.0,942.3 1024.3,939.7 1024.3,968.7 1016.0,971.3" fill="#3a53a4" stroke="none" stroke-width="0" stroke-linejoin="round" />
<polygon points="748.8,976.8 762.7,978.8 762.7,1008.3 748.8,1006.3" fill="#ed1c24" stroke="none" stroke-width="0" stroke-linejoin="round" />
<polygon points="1016.0,973.5 1024.3,970.9 1024.3,1001.5 1016.0,1004.1" fill="#ed1c24" stroke="none" stroke-width="0" stroke-linejoin="round" />
<polygon points="766.0,946.7 779.9,948.7 779.9,978.7 766.0,976.7" fill="#6abd45" stroke="none" stroke-width="0" stroke-linejoin="round" />
<polygon points="1027.6,938.7 1035.9,936.1 1035.9,965.1 1027.6,967.7" fill="#6abd45" stroke="none" stroke-width="0" stroke-linejoin="round" />
<polygon points="766.0,979.3 779.9,981.3 779.9,1010.8 766.0,1008.8" fill="#ed1c24" stroke="none" stroke-width="0" stroke-linejoin="round" />
<polygon points="1027.6,969.9 1035.9,967.3 1035.9,997.9 1027.6,1000.5" fill="#ed1c24" stroke="none" stroke-width="0" stroke-linejoin="round" />
<polygon points="783.1,949.1 797.0,951.1 797.0,981.1 783.1,979.1" fill="#000000" stroke="none" stroke-width="0" stroke-linejoin="round" />
<polygon points="1039.2,935.0 1047.5,932.4 1047.5,961.4 1039.2,964.0" fill="#000000" stroke="none" stroke-width="0" stroke-linejoin="round" />
<polygon points="783.1,981.7 797.0,983.7 797.0,1013.2 783.1,1011.2" fill="#3a53a4" stroke="none" stroke-width="0" stroke-linejoin="round" />
<polygon points="1039.2,966.2 1047.5,963.6 1047.5,994.2 1039.2,996.8" fill="#3a53a4" stroke="none" stroke-width="0" stroke-linejoin="round" />
<polygon points="800.3,951.6 814.2,953.6 814.2,983.6 800.3,981.6" fill="#ed1c24" stroke="none" stroke-width="0" stroke-linejoin="round" />
<polygon points="1050.8,931.4 1059.1,928.8 1059.1,957.8 1050.8,960.4" fill="#ed1c24" stroke="none" stroke-width="0" stroke-linejoin="round" />
<polygon points="800.3,984.2 814.2,986.2 814.2,1015.7 800.3,1013.7" fill="#3a53a4" stroke="none" stroke-width="0" stroke-linejoin="round" />
<polygon points="1050.8,962.6 1059.1,960.0 1059.1,990.6 1050.8,993.2" fill="#3a53a4" stroke="none" stroke-width="0" stroke-linejoin="round" />
<polygon points="817.4,954.0 831.3,956.0 831.3,986.0 817.4,984.0" fill="#3a53a4" stroke="none" stroke-width="0" stroke-linejoin="round" />
<polygon points="1062.4,927.8 1070.7,925.2 1070.7,954.2 1062.4,956.8" fill="#3a53a4" stroke="none" stroke-width="0" stroke-linejoin="round" />
<polygon points="817.4,986.6 831.3,988.6 831.3,1018.1 817.4,1016.1" fill="#3a53a4" stroke="none" stroke-width="0" stroke-linejoin="round" />
<polygon points="1062.4,959.0 1070.7,956.4 1070.7,987.0 1062.4,989.6" fill="#3a53a4" stroke="none" stroke-width="0" stroke-linejoin="round" />
<polygon points="834.5,956.4 848.4,958.4 848.4,988.4 834.5,986.4" fill="#6abd45" stroke="none" stroke-width="0" stroke-linejoin="round" />
<polygon points="1074.0,924.2 1082.3,921.6 1082.3,950.6 1074.0,953.2" fill="#6abd45" stroke="none" stroke-width="0" stroke-linejoin="round" />
<polygon points="834.5,989.0 848.4,991.0 848.4,1020.5 834.5,1018.5" fill="#3a53a4" stroke="none" stroke-width="0" stroke-linejoin="round" />
<polygon points="1074.0,955.4 1082.3,952.8 1082.3,983.4 1074.0,986.0" fill="#3a53a4" stroke="none" stroke-width="0" stroke-linejoin="round" />
<polygon points="851.7,958.9 865.6,960.9 865.6,990.9 851.7,988.9" fill="#000000" stroke="none" stroke-width="0" stroke-linejoin="round" />
<polygon points="1085.6,920.6 1093.9,918.0 1093.9,947.0 1085.6,949.6" fill="#000000" stroke="none" stroke-width="0" stroke-linejoin="round" />
<polygon points="851.7,991.5 865.6,993.5 865.6,1023.0 851.7,1021.0" fill="#6abd45" stroke="none" stroke-width="0" stroke-linejoin="round" />
<polygon points="1085.6,951.8 1093.9,949.2 1093.9,979.8 1085.6,982.4" fill="#6abd45" stroke="none" stroke-width="0" stroke-linejoin="round" />
<polygon points="868.8,961.3 882.7,963.3 882.7,993.3 868.8,991.3" fill="#ed1c24" stroke="none" stroke-width="0" stroke-linejoin="round" />
<polygon points="1097.2,916.9 1105.5,914.3 1105.5,943.3 1097.2,945.9" fill="#ed1c24" stroke="none" stroke-width="0" stroke-linejoin="round" />
<polygon points="868.8,993.9 882.7,995.9 882.7,1025.4 868.8,1023.4" fill="#6abd45" stroke="none" stroke-width="0" stroke-linejoin="round" />
<polygon points="1097.2,948.1 1105.5,945.5 1105.5,976.1 1097.2,978.7" fill="#6abd45" stroke="none" stroke-width="0" stroke-linejoin="round" />
<polygon points="886.0,963.8 899.9,965.8 899.9,995.8 886.0,993.8" fill="#3a53a4" stroke="none" stroke-width="0" stroke-linejoin="round" />
<polygon points="1108.8,913.3 1117.1,910.7 1117.1,939.7 1108.8,942.3" fill="#3a53a4" stroke="none" stroke-width="0" stroke-linejoin="round" />
<polygon points="886.0,996.4 899.9,998.4 899.9,1027.9 886.0,1025.9" fill="#6abd45" stroke="none" stroke-width="0" stroke-linejoin="round" />
<polygon points="1108.8,944.5 1117.1,941.9 1117.1,972.5 1108.8,975.1" fill="#6abd45" stroke="none" stroke-width="0" stroke-linejoin="round" />
<polygon points="903.1,966.2 917.0,968.2 917.0,998.2 903.1,996.2" fill="#6abd45" stroke="none" stroke-width="0" stroke-linejoin="round" />
<polygon points="1120.3,909.7 1128.6,907.1 1128.6,936.1 1120.3,938.7" fill="#6abd45" stroke="none" stroke-width="0" stroke-linejoin="round" />
<polygon points="903.1,998.8 917.0,1000.8 917.0,1030.3 903.1,1028.3" fill="#6abd45" stroke="none" stroke-width="0" stroke-linejoin="round" />
<polygon points="1120.3,940.9 1128.6,938.3 1128.6,968.9 1120.3,971.5" fill="#6abd45" stroke="none" stroke-width="0" stroke-linejoin="round" />
<rect x="465.6" y="1007" width="38.7" height="60" fill="#000000"/>
<text x="484.9" y="1045.4" font-size="36" fill="#fff" text-anchor="middle" font-style="italic" >I</text>
<rect x="514.9" y="1007" width="38.7" height="60" fill="#ed1c24"/>
<text x="534.2" y="1045.4" font-size="36" fill="#fff" text-anchor="middle" font-style="italic" >X</text>
<rect x="564.2" y="1007" width="38.7" height="60" fill="#3a53a4"/>
<text x="583.5" y="1045.4" font-size="36" fill="#fff" text-anchor="middle" font-style="italic" >Y</text>
<rect x="613.5" y="1007" width="38.7" height="60" fill="#6abd45"/>
<text x="632.8" y="1045.4" font-size="36" fill="#fff" text-anchor="middle" font-style="italic" >Z</text>
</svg>
</body></html>
